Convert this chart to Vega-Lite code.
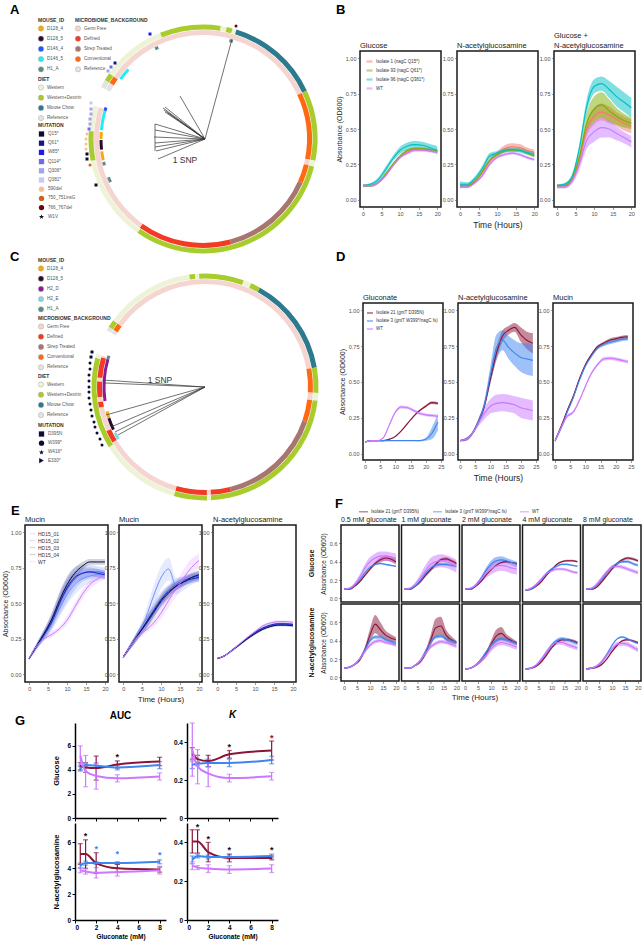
{
"$schema":"https://vega.github.io/schema/vega-lite/v6.json",
"padding":0,
"background":"white",
"config":{"font":"Liberation Sans","view":{"stroke":null},
"axis":{"grid":false,"domain":false,"labelFontSize":5.5,"labelColor":"#4d4d4d","tickColor":"#555","tickSize":2.5,"tickWidth":0.6,"labelPadding":1.5,"titleFontSize":7,"titleFontWeight":"normal","titleColor":"#222","titlePadding":3},
"title":{"fontSize":7.5,"fontWeight":"normal","anchor":"start","frame":"group","offset":2,"color":"#222"},
"legend":{"titleFontSize":5,"titleFontWeight":"bold","labelFontSize":4.6,"rowPadding":2.2,"titlePadding":2.5,"labelOffset":3,"labelColor":"#555","titleColor":"#333","symbolSize":28,"padding":0,"offset":0}},
"datasets":{
"dietA":[{"a0":297,"a1":301,"c":"Reference"},{"a0":301,"a1":305,"c":"Western+Dextrin"},{"a0":305,"a1":338,"c":"Western"},{"a0":338,"a1":360,"c":"Western+Dextrin"},{"a0":0,"a1":9,"c":"Western+Dextrin"},{"a0":9,"a1":12,"c":"Western"},{"a0":12,"a1":15,"c":"Western+Dextrin"},{"a0":15,"a1":17,"c":"Western"},{"a0":17,"a1":65,"c":"Mouse Chow"},{"a0":65,"a1":101,"c":"Western+Dextrin"},{"a0":101,"a1":104,"c":"Western"},{"a0":104,"a1":215,"c":"Western+Dextrin"},{"a0":215,"a1":259,"c":"Western"},{"a0":259,"a1":274,"c":"Western+Dextrin"},{"a0":274,"a1":287,"c":"Western"}],
"microA":[{"a0":297,"a1":301,"c":"Reference"},{"a0":301,"a1":305,"c":"Conventional"},{"a0":305,"a1":360,"c":"Germ Free"},{"a0":0,"a1":65,"c":"Germ Free"},{"a0":65,"a1":101,"c":"Conventional"},{"a0":101,"a1":104,"c":"Germ Free"},{"a0":104,"a1":114,"c":"Conventional"},{"a0":114,"a1":165,"c":"Strep Treated"},{"a0":165,"a1":215.5,"c":"Defined"},{"a0":215.5,"a1":287,"c":"Germ Free"}],
"mouseA":[{"a0":306,"a1":313,"c":"D146_5"},{"a0":332,"a1":334,"c":"H1_A"},{"a0":15,"a1":17,"c":"H1_A"},{"a0":286,"a1":288,"c":"D146_4"},{"a0":275,"a1":286,"c":"D146_5"},{"a0":270,"a1":274,"c":"D128_4"},{"a0":264,"a1":269.5,"c":"D128_5"},{"a0":258,"a1":263,"c":"D128_4"},{"a0":255,"a1":257,"c":"H1_A"},{"a0":245,"a1":248,"c":"H1_A"}],
"mutA":[{"dx":-53,"dy":-105,"m":"W85*"},{"dx":-88,"dy":-76,"m":"Q61*"},{"dx":-92,"dy":-72,"m":"Q114*"},{"dx":-95,"dy":-68,"m":"Q306*"},{"dx":-112,"dy":-36,"m":"Q381*"},{"dx":-112,"dy":-30,"m":"Q306*"},{"dx":-112,"dy":-25,"m":"Q306*"},{"dx":-113,"dy":-20,"m":"Q306*"},{"dx":-113,"dy":-15,"m":"Q306*"},{"dx":-114,"dy":-10,"m":"Q114*"},{"dx":-116,"dy":-5,"m":"590del"},{"dx":-117,"dy":0,"m":"590del"},{"dx":-117,"dy":5,"m":"590del"},{"dx":-117,"dy":10,"m":"590del"},{"dx":-116,"dy":15,"m":"Q15*"},{"dx":-116,"dy":20,"m":"Q15*"},{"dx":-113,"dy":26,"m":"750_751insG"},{"dx":-107,"dy":46,"m":"Q15*"},{"dx":33,"dy":-113,"m":"766_767del"}],
"treeA":[{"x":2,"y":0,"x2":29,"y2":-100},{"x":2,"y":0,"x2":-23,"y2":-43},{"x":2,"y":0,"x2":-38,"y2":-32},{"x":2,"y":0,"x2":-40,"y2":-31},{"x":2,"y":0,"x2":-39,"y2":-29},{"x":2,"y":0,"x2":-38,"y2":-27},{"x":2,"y":0,"x2":-35,"y2":-26},{"x":2,"y":0,"x2":-48,"y2":-15},{"x":2,"y":0,"x2":-48,"y2":-9},{"x":2,"y":0,"x2":-49,"y2":-2},{"x":2,"y":0,"x2":-48,"y2":4},{"x":2,"y":0,"x2":-48,"y2":8},{"x":2,"y":0,"x2":-47,"y2":12},{"x":2,"y":0,"x2":-45,"y2":20},{"x":-48,"y":-15,"x2":-48,"y2":12}],
"dietC":[{"a0":300,"a1":302,"c":"Reference"},{"a0":302,"a1":306,"c":"Western+Dextrin"},{"a0":306,"a1":352,"c":"Western"},{"a0":352,"a1":355,"c":"Western+Dextrin"},{"a0":355,"a1":357,"c":"Western"},{"a0":357,"a1":360,"c":"Western+Dextrin"},{"a0":0,"a1":20,"c":"Western+Dextrin"},{"a0":20,"a1":24,"c":"Western"},{"a0":24,"a1":29,"c":"Western+Dextrin"},{"a0":29,"a1":80,"c":"Mouse Chow"},{"a0":80,"a1":93,"c":"Western+Dextrin"},{"a0":93,"a1":97,"c":"Western"},{"a0":97,"a1":177,"c":"Western+Dextrin"},{"a0":177,"a1":179,"c":"Western"},{"a0":179,"a1":196,"c":"Western+Dextrin"},{"a0":196,"a1":238,"c":"Western"},{"a0":238,"a1":285,"c":"Western+Dextrin"},{"a0":285,"a1":287,"c":"Western"}],
"microC":[{"a0":300,"a1":302,"c":"Reference"},{"a0":302,"a1":306,"c":"Conventional"},{"a0":306,"a1":360,"c":"Germ Free"},{"a0":0,"a1":80,"c":"Germ Free"},{"a0":80,"a1":93,"c":"Conventional"},{"a0":93,"a1":97,"c":"Germ Free"},{"a0":97,"a1":109,"c":"Conventional"},{"a0":109,"a1":166,"c":"Strep Treated"},{"a0":166,"a1":177,"c":"Defined"},{"a0":177,"a1":179,"c":"Germ Free"},{"a0":179,"a1":196,"c":"Defined"},{"a0":196,"a1":239,"c":"Germ Free"},{"a0":239,"a1":246,"c":"Defined"},{"a0":246,"a1":259,"c":"Germ Free"},{"a0":259,"a1":262,"c":"Defined"},{"a0":262,"a1":264.5,"c":"Germ Free"},{"a0":264.5,"a1":273,"c":"Defined"},{"a0":273,"a1":275,"c":"Germ Free"},{"a0":275,"a1":286,"c":"Defined"},{"a0":286,"a1":287,"c":"Germ Free"}],
"mouseC":[{"a0":262,"a1":286,"c":"H2_D"},{"a0":252,"a1":256,"c":"D128_4"},{"a0":245,"a1":252,"c":"D128_5"},{"a0":239,"a1":243,"c":"H2_E"},{"a0":286,"a1":288,"c":"H1_A"}],
"mutC":[{"dx":-113,"dy":-35,"m":"D395N"},{"dx":-114,"dy":-30,"m":"D395N"},{"dx":-115,"dy":-24,"m":"W399*"},{"dx":-115,"dy":-18,"m":"W399*"},{"dx":-116,"dy":-12,"m":"W399*"},{"dx":-116,"dy":-6,"m":"W399*"},{"dx":-116,"dy":0,"m":"W399*"},{"dx":-116,"dy":5,"m":"W399*"},{"dx":-116,"dy":11,"m":"W399*"},{"dx":-115,"dy":17,"m":"W399*"},{"dx":-114,"dy":23,"m":"W399*"},{"dx":-113,"dy":29,"m":"W399*"},{"dx":-111,"dy":35,"m":"W399*"},{"dx":-110,"dy":40,"m":"W399*"},{"dx":-108,"dy":46,"m":"W399*"},{"dx":-105,"dy":52,"m":"W399*"},{"dx":-103,"dy":58,"m":"W399*"}],
"treeC":[{"x":0,"y":0,"x2":-102,"y2":-7},{"x":0,"y":0,"x2":-100,"y2":-4},{"x":0,"y":0,"x2":-99,"y2":28},{"x":0,"y":0,"x2":-94,"y2":40},{"x":0,"y":0,"x2":-90,"y2":45},{"x":0,"y":0,"x2":-87,"y2":48}],
"B":[
{"p":"G","s":"I1","t":0,"y":0.1,"e":0.008},{"p":"G","s":"I1","t":2,"y":0.1,"e":0.008},{"p":"G","s":"I1","t":4,"y":0.12,"e":0.008},{"p":"G","s":"I1","t":6,"y":0.17,"e":0.008},{"p":"G","s":"I1","t":8,"y":0.24,"e":0.008},{"p":"G","s":"I1","t":10,"y":0.3,"e":0.008},{"p":"G","s":"I1","t":12,"y":0.34,"e":0.01},{"p":"G","s":"I1","t":14,"y":0.36,"e":0.01},{"p":"G","s":"I1","t":16,"y":0.36,"e":0.01},{"p":"G","s":"I1","t":18,"y":0.35,"e":0.01},{"p":"G","s":"I1","t":20,"y":0.34,"e":0.01},
{"p":"G","s":"I93","t":0,"y":0.1,"e":0.008},{"p":"G","s":"I93","t":2,"y":0.1,"e":0.008},{"p":"G","s":"I93","t":4,"y":0.12,"e":0.008},{"p":"G","s":"I93","t":6,"y":0.18,"e":0.008},{"p":"G","s":"I93","t":8,"y":0.25,"e":0.008},{"p":"G","s":"I93","t":10,"y":0.31,"e":0.008},{"p":"G","s":"I93","t":12,"y":0.35,"e":0.01},{"p":"G","s":"I93","t":14,"y":0.36,"e":0.01},{"p":"G","s":"I93","t":16,"y":0.36,"e":0.01},{"p":"G","s":"I93","t":18,"y":0.355,"e":0.01},{"p":"G","s":"I93","t":20,"y":0.345,"e":0.01},
{"p":"G","s":"I96","t":0,"y":0.1,"e":0.01},{"p":"G","s":"I96","t":2,"y":0.11,"e":0.01},{"p":"G","s":"I96","t":4,"y":0.14,"e":0.015},{"p":"G","s":"I96","t":6,"y":0.21,"e":0.02},{"p":"G","s":"I96","t":8,"y":0.29,"e":0.02},{"p":"G","s":"I96","t":10,"y":0.35,"e":0.025},{"p":"G","s":"I96","t":12,"y":0.38,"e":0.025},{"p":"G","s":"I96","t":14,"y":0.39,"e":0.025},{"p":"G","s":"I96","t":16,"y":0.385,"e":0.025},{"p":"G","s":"I96","t":18,"y":0.37,"e":0.025},{"p":"G","s":"I96","t":20,"y":0.35,"e":0.03},
{"p":"G","s":"WT","t":0,"y":0.1,"e":0.008},{"p":"G","s":"WT","t":2,"y":0.1,"e":0.008},{"p":"G","s":"WT","t":4,"y":0.12,"e":0.008},{"p":"G","s":"WT","t":6,"y":0.17,"e":0.01},{"p":"G","s":"WT","t":8,"y":0.24,"e":0.01},{"p":"G","s":"WT","t":10,"y":0.3,"e":0.01},{"p":"G","s":"WT","t":12,"y":0.33,"e":0.01},{"p":"G","s":"WT","t":14,"y":0.35,"e":0.01},{"p":"G","s":"WT","t":16,"y":0.35,"e":0.01},{"p":"G","s":"WT","t":18,"y":0.345,"e":0.01},{"p":"G","s":"WT","t":20,"y":0.34,"e":0.01},
{"p":"N","s":"I1","t":0,"y":0.1,"e":0.01},{"p":"N","s":"I1","t":2,"y":0.1,"e":0.01},{"p":"N","s":"I1","t":4,"y":0.13,"e":0.01},{"p":"N","s":"I1","t":6,"y":0.19,"e":0.015},{"p":"N","s":"I1","t":8,"y":0.27,"e":0.015},{"p":"N","s":"I1","t":10,"y":0.32,"e":0.02},{"p":"N","s":"I1","t":12,"y":0.36,"e":0.025},{"p":"N","s":"I1","t":14,"y":0.375,"e":0.025},{"p":"N","s":"I1","t":16,"y":0.37,"e":0.025},{"p":"N","s":"I1","t":18,"y":0.35,"e":0.02},{"p":"N","s":"I1","t":20,"y":0.335,"e":0.02},
{"p":"N","s":"I93","t":0,"y":0.1,"e":0.008},{"p":"N","s":"I93","t":2,"y":0.1,"e":0.008},{"p":"N","s":"I93","t":4,"y":0.13,"e":0.01},{"p":"N","s":"I93","t":6,"y":0.2,"e":0.01},{"p":"N","s":"I93","t":8,"y":0.28,"e":0.01},{"p":"N","s":"I93","t":10,"y":0.32,"e":0.01},{"p":"N","s":"I93","t":12,"y":0.345,"e":0.01},{"p":"N","s":"I93","t":14,"y":0.35,"e":0.01},{"p":"N","s":"I93","t":16,"y":0.35,"e":0.01},{"p":"N","s":"I93","t":18,"y":0.33,"e":0.01},{"p":"N","s":"I93","t":20,"y":0.31,"e":0.01},
{"p":"N","s":"I96","t":0,"y":0.11,"e":0.02},{"p":"N","s":"I96","t":2,"y":0.11,"e":0.015},{"p":"N","s":"I96","t":4,"y":0.15,"e":0.015},{"p":"N","s":"I96","t":6,"y":0.22,"e":0.02},{"p":"N","s":"I96","t":8,"y":0.31,"e":0.02},{"p":"N","s":"I96","t":10,"y":0.33,"e":0.015},{"p":"N","s":"I96","t":12,"y":0.35,"e":0.015},{"p":"N","s":"I96","t":14,"y":0.355,"e":0.015},{"p":"N","s":"I96","t":16,"y":0.35,"e":0.015},{"p":"N","s":"I96","t":18,"y":0.335,"e":0.015},{"p":"N","s":"I96","t":20,"y":0.32,"e":0.015},
{"p":"N","s":"WT","t":0,"y":0.09,"e":0.008},{"p":"N","s":"WT","t":2,"y":0.09,"e":0.008},{"p":"N","s":"WT","t":4,"y":0.12,"e":0.008},{"p":"N","s":"WT","t":6,"y":0.17,"e":0.01},{"p":"N","s":"WT","t":8,"y":0.25,"e":0.01},{"p":"N","s":"WT","t":10,"y":0.3,"e":0.01},{"p":"N","s":"WT","t":12,"y":0.32,"e":0.01},{"p":"N","s":"WT","t":14,"y":0.33,"e":0.01},{"p":"N","s":"WT","t":16,"y":0.32,"e":0.01},{"p":"N","s":"WT","t":18,"y":0.3,"e":0.01},{"p":"N","s":"WT","t":20,"y":0.285,"e":0.01},
{"p":"GN","s":"I1","t":0,"y":0.1,"e":0.01},{"p":"GN","s":"I1","t":2,"y":0.1,"e":0.01},{"p":"GN","s":"I1","t":4,"y":0.14,"e":0.015},{"p":"GN","s":"I1","t":6,"y":0.28,"e":0.03},{"p":"GN","s":"I1","t":8,"y":0.5,"e":0.05},{"p":"GN","s":"I1","t":10,"y":0.59,"e":0.06},{"p":"GN","s":"I1","t":12,"y":0.62,"e":0.06},{"p":"GN","s":"I1","t":14,"y":0.6,"e":0.06},{"p":"GN","s":"I1","t":16,"y":0.57,"e":0.05},{"p":"GN","s":"I1","t":18,"y":0.54,"e":0.05},{"p":"GN","s":"I1","t":20,"y":0.52,"e":0.05},
{"p":"GN","s":"I93","t":0,"y":0.1,"e":0.01},{"p":"GN","s":"I93","t":2,"y":0.1,"e":0.01},{"p":"GN","s":"I93","t":4,"y":0.15,"e":0.015},{"p":"GN","s":"I93","t":6,"y":0.3,"e":0.04},{"p":"GN","s":"I93","t":8,"y":0.54,"e":0.07},{"p":"GN","s":"I93","t":10,"y":0.64,"e":0.09},{"p":"GN","s":"I93","t":12,"y":0.67,"e":0.09},{"p":"GN","s":"I93","t":14,"y":0.63,"e":0.08},{"p":"GN","s":"I93","t":16,"y":0.59,"e":0.06},{"p":"GN","s":"I93","t":18,"y":0.56,"e":0.05},{"p":"GN","s":"I93","t":20,"y":0.54,"e":0.04},
{"p":"GN","s":"I96","t":0,"y":0.1,"e":0.01},{"p":"GN","s":"I96","t":2,"y":0.11,"e":0.01},{"p":"GN","s":"I96","t":4,"y":0.16,"e":0.02},{"p":"GN","s":"I96","t":6,"y":0.36,"e":0.03},{"p":"GN","s":"I96","t":8,"y":0.66,"e":0.05},{"p":"GN","s":"I96","t":10,"y":0.8,"e":0.05},{"p":"GN","s":"I96","t":12,"y":0.82,"e":0.05},{"p":"GN","s":"I96","t":14,"y":0.78,"e":0.06},{"p":"GN","s":"I96","t":16,"y":0.73,"e":0.07},{"p":"GN","s":"I96","t":18,"y":0.69,"e":0.07},{"p":"GN","s":"I96","t":20,"y":0.65,"e":0.07},
{"p":"GN","s":"WT","t":0,"y":0.09,"e":0.01},{"p":"GN","s":"WT","t":2,"y":0.09,"e":0.01},{"p":"GN","s":"WT","t":4,"y":0.13,"e":0.02},{"p":"GN","s":"WT","t":6,"y":0.25,"e":0.04},{"p":"GN","s":"WT","t":8,"y":0.42,"e":0.06},{"p":"GN","s":"WT","t":10,"y":0.48,"e":0.07},{"p":"GN","s":"WT","t":12,"y":0.51,"e":0.07},{"p":"GN","s":"WT","t":14,"y":0.5,"e":0.06},{"p":"GN","s":"WT","t":16,"y":0.47,"e":0.05},{"p":"GN","s":"WT","t":18,"y":0.44,"e":0.04},{"p":"GN","s":"WT","t":20,"y":0.41,"e":0.04}],
"D":[
{"p":"Gc","s":"R","t":0,"y":0.08,"e":0.005},{"p":"Gc","s":"R","t":2,"y":0.09,"e":0.005},{"p":"Gc","s":"R","t":4,"y":0.09,"e":0.005},{"p":"Gc","s":"R","t":6,"y":0.09,"e":0.005},{"p":"Gc","s":"R","t":8,"y":0.1,"e":0.005},{"p":"Gc","s":"R","t":10,"y":0.12,"e":0.005},{"p":"Gc","s":"R","t":12,"y":0.16,"e":0.005},{"p":"Gc","s":"R","t":14,"y":0.21,"e":0.005},{"p":"Gc","s":"R","t":16,"y":0.26,"e":0.005},{"p":"Gc","s":"R","t":18,"y":0.3,"e":0.006},{"p":"Gc","s":"R","t":20,"y":0.33,"e":0.008},{"p":"Gc","s":"R","t":22,"y":0.355,"e":0.01},{"p":"Gc","s":"R","t":24,"y":0.35,"e":0.01},
{"p":"Gc","s":"B","t":0,"y":0.08,"e":0.003},{"p":"Gc","s":"B","t":2,"y":0.09,"e":0.003},{"p":"Gc","s":"B","t":4,"y":0.09,"e":0.003},{"p":"Gc","s":"B","t":6,"y":0.09,"e":0.003},{"p":"Gc","s":"B","t":8,"y":0.09,"e":0.003},{"p":"Gc","s":"B","t":10,"y":0.09,"e":0.003},{"p":"Gc","s":"B","t":12,"y":0.09,"e":0.003},{"p":"Gc","s":"B","t":14,"y":0.09,"e":0.003},{"p":"Gc","s":"B","t":16,"y":0.09,"e":0.003},{"p":"Gc","s":"B","t":18,"y":0.09,"e":0.005},{"p":"Gc","s":"B","t":20,"y":0.1,"e":0.01},{"p":"Gc","s":"B","t":22,"y":0.14,"e":0.04},{"p":"Gc","s":"B","t":24,"y":0.22,"e":0.06},
{"p":"Gc","s":"W","t":0,"y":0.08,"e":0.005},{"p":"Gc","s":"W","t":2,"y":0.09,"e":0.005},{"p":"Gc","s":"W","t":4,"y":0.09,"e":0.005},{"p":"Gc","s":"W","t":6,"y":0.11,"e":0.005},{"p":"Gc","s":"W","t":8,"y":0.2,"e":0.008},{"p":"Gc","s":"W","t":10,"y":0.29,"e":0.01},{"p":"Gc","s":"W","t":12,"y":0.325,"e":0.01},{"p":"Gc","s":"W","t":14,"y":0.32,"e":0.01},{"p":"Gc","s":"W","t":16,"y":0.3,"e":0.01},{"p":"Gc","s":"W","t":18,"y":0.28,"e":0.01},{"p":"Gc","s":"W","t":20,"y":0.27,"e":0.01},{"p":"Gc","s":"W","t":22,"y":0.265,"e":0.01},{"p":"Gc","s":"W","t":24,"y":0.26,"e":0.01},
{"p":"N","s":"R","t":0,"y":0.09,"e":0.005},{"p":"N","s":"R","t":2,"y":0.1,"e":0.01},{"p":"N","s":"R","t":4,"y":0.14,"e":0.01},{"p":"N","s":"R","t":6,"y":0.22,"e":0.02},{"p":"N","s":"R","t":8,"y":0.33,"e":0.02},{"p":"N","s":"R","t":10,"y":0.52,"e":0.03},{"p":"N","s":"R","t":12,"y":0.7,"e":0.04},{"p":"N","s":"R","t":14,"y":0.82,"e":0.04},{"p":"N","s":"R","t":16,"y":0.86,"e":0.03},{"p":"N","s":"R","t":18,"y":0.88,"e":0.03},{"p":"N","s":"R","t":20,"y":0.83,"e":0.05},{"p":"N","s":"R","t":22,"y":0.79,"e":0.06},{"p":"N","s":"R","t":24,"y":0.77,"e":0.07},
{"p":"N","s":"B","t":0,"y":0.09,"e":0.005},{"p":"N","s":"B","t":2,"y":0.1,"e":0.01},{"p":"N","s":"B","t":4,"y":0.14,"e":0.01},{"p":"N","s":"B","t":6,"y":0.22,"e":0.02},{"p":"N","s":"B","t":8,"y":0.34,"e":0.03},{"p":"N","s":"B","t":10,"y":0.55,"e":0.06},{"p":"N","s":"B","t":12,"y":0.74,"e":0.09},{"p":"N","s":"B","t":14,"y":0.79,"e":0.07},{"p":"N","s":"B","t":16,"y":0.74,"e":0.08},{"p":"N","s":"B","t":18,"y":0.7,"e":0.09},{"p":"N","s":"B","t":20,"y":0.67,"e":0.1},{"p":"N","s":"B","t":22,"y":0.66,"e":0.11},{"p":"N","s":"B","t":24,"y":0.65,"e":0.11},
{"p":"N","s":"W","t":0,"y":0.09,"e":0.005},{"p":"N","s":"W","t":2,"y":0.1,"e":0.01},{"p":"N","s":"W","t":4,"y":0.14,"e":0.01},{"p":"N","s":"W","t":6,"y":0.21,"e":0.02},{"p":"N","s":"W","t":8,"y":0.28,"e":0.04},{"p":"N","s":"W","t":10,"y":0.33,"e":0.05},{"p":"N","s":"W","t":12,"y":0.35,"e":0.06},{"p":"N","s":"W","t":14,"y":0.355,"e":0.06},{"p":"N","s":"W","t":16,"y":0.35,"e":0.06},{"p":"N","s":"W","t":18,"y":0.34,"e":0.06},{"p":"N","s":"W","t":20,"y":0.32,"e":0.07},{"p":"N","s":"W","t":22,"y":0.31,"e":0.07},{"p":"N","s":"W","t":24,"y":0.3,"e":0.07},
{"p":"M","s":"R","t":0,"y":0.09,"e":0.01},{"p":"M","s":"R","t":2,"y":0.19,"e":0.01},{"p":"M","s":"R","t":4,"y":0.3,"e":0.01},{"p":"M","s":"R","t":6,"y":0.4,"e":0.01},{"p":"M","s":"R","t":8,"y":0.52,"e":0.01},{"p":"M","s":"R","t":10,"y":0.62,"e":0.01},{"p":"M","s":"R","t":12,"y":0.69,"e":0.01},{"p":"M","s":"R","t":14,"y":0.745,"e":0.01},{"p":"M","s":"R","t":16,"y":0.77,"e":0.01},{"p":"M","s":"R","t":18,"y":0.79,"e":0.012},{"p":"M","s":"R","t":20,"y":0.8,"e":0.012},{"p":"M","s":"R","t":22,"y":0.81,"e":0.012},{"p":"M","s":"R","t":24,"y":0.815,"e":0.012},
{"p":"M","s":"B","t":0,"y":0.09,"e":0.01},{"p":"M","s":"B","t":2,"y":0.18,"e":0.01},{"p":"M","s":"B","t":4,"y":0.29,"e":0.01},{"p":"M","s":"B","t":6,"y":0.39,"e":0.01},{"p":"M","s":"B","t":8,"y":0.51,"e":0.01},{"p":"M","s":"B","t":10,"y":0.61,"e":0.01},{"p":"M","s":"B","t":12,"y":0.68,"e":0.01},{"p":"M","s":"B","t":14,"y":0.735,"e":0.01},{"p":"M","s":"B","t":16,"y":0.76,"e":0.012},{"p":"M","s":"B","t":18,"y":0.775,"e":0.012},{"p":"M","s":"B","t":20,"y":0.785,"e":0.012},{"p":"M","s":"B","t":22,"y":0.795,"e":0.012},{"p":"M","s":"B","t":24,"y":0.8,"e":0.012},
{"p":"M","s":"W","t":0,"y":0.09,"e":0.01},{"p":"M","s":"W","t":2,"y":0.18,"e":0.01},{"p":"M","s":"W","t":4,"y":0.26,"e":0.01},{"p":"M","s":"W","t":6,"y":0.29,"e":0.01},{"p":"M","s":"W","t":8,"y":0.37,"e":0.01},{"p":"M","s":"W","t":10,"y":0.47,"e":0.01},{"p":"M","s":"W","t":12,"y":0.56,"e":0.01},{"p":"M","s":"W","t":14,"y":0.62,"e":0.01},{"p":"M","s":"W","t":16,"y":0.66,"e":0.012},{"p":"M","s":"W","t":18,"y":0.665,"e":0.012},{"p":"M","s":"W","t":20,"y":0.66,"e":0.012},{"p":"M","s":"W","t":22,"y":0.65,"e":0.012},{"p":"M","s":"W","t":24,"y":0.64,"e":0.012}],
"E":[
{"p":"M1","s":"HD15_01","t":0,"y":0.11,"e":0.01},{"p":"M1","s":"HD15_01","t":2,"y":0.19,"e":0.02},{"p":"M1","s":"HD15_01","t":4,"y":0.27,"e":0.03},{"p":"M1","s":"HD15_01","t":6,"y":0.36,"e":0.05},{"p":"M1","s":"HD15_01","t":8,"y":0.46,"e":0.06},{"p":"M1","s":"HD15_01","t":10,"y":0.56,"e":0.07},{"p":"M1","s":"HD15_01","t":12,"y":0.63,"e":0.07},{"p":"M1","s":"HD15_01","t":14,"y":0.67,"e":0.06},{"p":"M1","s":"HD15_01","t":16,"y":0.69,"e":0.05},{"p":"M1","s":"HD15_01","t":18,"y":0.7,"e":0.04},{"p":"M1","s":"HD15_01","t":20,"y":0.7,"e":0.03},
{"p":"M1","s":"HD15_02","t":0,"y":0.11,"e":0.01},{"p":"M1","s":"HD15_02","t":2,"y":0.2,"e":0.02},{"p":"M1","s":"HD15_02","t":4,"y":0.28,"e":0.04},{"p":"M1","s":"HD15_02","t":6,"y":0.38,"e":0.06},{"p":"M1","s":"HD15_02","t":8,"y":0.5,"e":0.08},{"p":"M1","s":"HD15_02","t":10,"y":0.6,"e":0.09},{"p":"M1","s":"HD15_02","t":12,"y":0.67,"e":0.08},{"p":"M1","s":"HD15_02","t":14,"y":0.71,"e":0.06},{"p":"M1","s":"HD15_02","t":16,"y":0.72,"e":0.05},{"p":"M1","s":"HD15_02","t":18,"y":0.72,"e":0.04},{"p":"M1","s":"HD15_02","t":20,"y":0.71,"e":0.04},
{"p":"M1","s":"HD15_03","t":0,"y":0.11,"e":0.01},{"p":"M1","s":"HD15_03","t":2,"y":0.2,"e":0.02},{"p":"M1","s":"HD15_03","t":4,"y":0.28,"e":0.03},{"p":"M1","s":"HD15_03","t":6,"y":0.37,"e":0.04},{"p":"M1","s":"HD15_03","t":8,"y":0.5,"e":0.05},{"p":"M1","s":"HD15_03","t":10,"y":0.61,"e":0.05},{"p":"M1","s":"HD15_03","t":12,"y":0.68,"e":0.04},{"p":"M1","s":"HD15_03","t":14,"y":0.71,"e":0.04},{"p":"M1","s":"HD15_03","t":16,"y":0.72,"e":0.03},{"p":"M1","s":"HD15_03","t":18,"y":0.71,"e":0.03},{"p":"M1","s":"HD15_03","t":20,"y":0.7,"e":0.03},
{"p":"M1","s":"HD15_04","t":0,"y":0.11,"e":0.01},{"p":"M1","s":"HD15_04","t":2,"y":0.2,"e":0.02},{"p":"M1","s":"HD15_04","t":4,"y":0.29,"e":0.03},{"p":"M1","s":"HD15_04","t":6,"y":0.39,"e":0.04},{"p":"M1","s":"HD15_04","t":8,"y":0.52,"e":0.05},{"p":"M1","s":"HD15_04","t":10,"y":0.63,"e":0.05},{"p":"M1","s":"HD15_04","t":12,"y":0.71,"e":0.04},{"p":"M1","s":"HD15_04","t":14,"y":0.76,"e":0.03},{"p":"M1","s":"HD15_04","t":16,"y":0.79,"e":0.02},{"p":"M1","s":"HD15_04","t":18,"y":0.79,"e":0.02},{"p":"M1","s":"HD15_04","t":20,"y":0.79,"e":0.02},
{"p":"M1","s":"WT","t":0,"y":0.11,"e":0.01},{"p":"M1","s":"WT","t":2,"y":0.2,"e":0.01},{"p":"M1","s":"WT","t":4,"y":0.25,"e":0.01},{"p":"M1","s":"WT","t":6,"y":0.28,"e":0.02},{"p":"M1","s":"WT","t":8,"y":0.32,"e":0.02},{"p":"M1","s":"WT","t":10,"y":0.38,"e":0.03},{"p":"M1","s":"WT","t":12,"y":0.47,"e":0.03},{"p":"M1","s":"WT","t":14,"y":0.56,"e":0.03},{"p":"M1","s":"WT","t":16,"y":0.63,"e":0.03},{"p":"M1","s":"WT","t":18,"y":0.67,"e":0.03},{"p":"M1","s":"WT","t":20,"y":0.7,"e":0.03},
{"p":"M2","s":"HD15_01","t":0,"y":0.12,"e":0.01},{"p":"M2","s":"HD15_01","t":2,"y":0.2,"e":0.02},{"p":"M2","s":"HD15_01","t":4,"y":0.29,"e":0.03},{"p":"M2","s":"HD15_01","t":6,"y":0.4,"e":0.05},{"p":"M2","s":"HD15_01","t":8,"y":0.55,"e":0.07},{"p":"M2","s":"HD15_01","t":10,"y":0.68,"e":0.08},{"p":"M2","s":"HD15_01","t":12,"y":0.74,"e":0.08},{"p":"M2","s":"HD15_01","t":14,"y":0.62,"e":0.06},{"p":"M2","s":"HD15_01","t":16,"y":0.64,"e":0.05},{"p":"M2","s":"HD15_01","t":18,"y":0.67,"e":0.04},{"p":"M2","s":"HD15_01","t":20,"y":0.69,"e":0.04},
{"p":"M2","s":"HD15_02","t":0,"y":0.12,"e":0.01},{"p":"M2","s":"HD15_02","t":2,"y":0.2,"e":0.02},{"p":"M2","s":"HD15_02","t":4,"y":0.28,"e":0.03},{"p":"M2","s":"HD15_02","t":6,"y":0.36,"e":0.04},{"p":"M2","s":"HD15_02","t":8,"y":0.45,"e":0.05},{"p":"M2","s":"HD15_02","t":10,"y":0.53,"e":0.05},{"p":"M2","s":"HD15_02","t":12,"y":0.59,"e":0.04},{"p":"M2","s":"HD15_02","t":14,"y":0.63,"e":0.04},{"p":"M2","s":"HD15_02","t":16,"y":0.66,"e":0.03},{"p":"M2","s":"HD15_02","t":18,"y":0.68,"e":0.03},{"p":"M2","s":"HD15_02","t":20,"y":0.69,"e":0.03},
{"p":"M2","s":"HD15_03","t":0,"y":0.12,"e":0.01},{"p":"M2","s":"HD15_03","t":2,"y":0.2,"e":0.02},{"p":"M2","s":"HD15_03","t":4,"y":0.28,"e":0.03},{"p":"M2","s":"HD15_03","t":6,"y":0.35,"e":0.04},{"p":"M2","s":"HD15_03","t":8,"y":0.43,"e":0.04},{"p":"M2","s":"HD15_03","t":10,"y":0.51,"e":0.04},{"p":"M2","s":"HD15_03","t":12,"y":0.57,"e":0.04},{"p":"M2","s":"HD15_03","t":14,"y":0.62,"e":0.03},{"p":"M2","s":"HD15_03","t":16,"y":0.65,"e":0.03},{"p":"M2","s":"HD15_03","t":18,"y":0.67,"e":0.03},{"p":"M2","s":"HD15_03","t":20,"y":0.68,"e":0.03},
{"p":"M2","s":"HD15_04","t":0,"y":0.12,"e":0.01},{"p":"M2","s":"HD15_04","t":2,"y":0.2,"e":0.02},{"p":"M2","s":"HD15_04","t":4,"y":0.28,"e":0.03},{"p":"M2","s":"HD15_04","t":6,"y":0.36,"e":0.04},{"p":"M2","s":"HD15_04","t":8,"y":0.44,"e":0.04},{"p":"M2","s":"HD15_04","t":10,"y":0.52,"e":0.04},{"p":"M2","s":"HD15_04","t":12,"y":0.58,"e":0.04},{"p":"M2","s":"HD15_04","t":14,"y":0.62,"e":0.03},{"p":"M2","s":"HD15_04","t":16,"y":0.65,"e":0.03},{"p":"M2","s":"HD15_04","t":18,"y":0.68,"e":0.03},{"p":"M2","s":"HD15_04","t":20,"y":0.7,"e":0.03},
{"p":"M2","s":"WT","t":0,"y":0.12,"e":0.01},{"p":"M2","s":"WT","t":2,"y":0.2,"e":0.01},{"p":"M2","s":"WT","t":4,"y":0.27,"e":0.02},{"p":"M2","s":"WT","t":6,"y":0.31,"e":0.02},{"p":"M2","s":"WT","t":8,"y":0.36,"e":0.03},{"p":"M2","s":"WT","t":10,"y":0.43,"e":0.04},{"p":"M2","s":"WT","t":12,"y":0.52,"e":0.05},{"p":"M2","s":"WT","t":14,"y":0.6,"e":0.05},{"p":"M2","s":"WT","t":16,"y":0.68,"e":0.06},{"p":"M2","s":"WT","t":18,"y":0.75,"e":0.06},{"p":"M2","s":"WT","t":20,"y":0.8,"e":0.05},
{"p":"N","s":"HD15_01","t":0,"y":0.11,"e":0.005},{"p":"N","s":"HD15_01","t":2,"y":0.13,"e":0.005},{"p":"N","s":"HD15_01","t":4,"y":0.17,"e":0.008},{"p":"N","s":"HD15_01","t":6,"y":0.21,"e":0.008},{"p":"N","s":"HD15_01","t":8,"y":0.25,"e":0.008},{"p":"N","s":"HD15_01","t":10,"y":0.29,"e":0.01},{"p":"N","s":"HD15_01","t":12,"y":0.32,"e":0.01},{"p":"N","s":"HD15_01","t":14,"y":0.34,"e":0.01},{"p":"N","s":"HD15_01","t":16,"y":0.35,"e":0.01},{"p":"N","s":"HD15_01","t":18,"y":0.35,"e":0.01},{"p":"N","s":"HD15_01","t":20,"y":0.345,"e":0.01},
{"p":"N","s":"HD15_02","t":0,"y":0.11,"e":0.005},{"p":"N","s":"HD15_02","t":2,"y":0.13,"e":0.005},{"p":"N","s":"HD15_02","t":4,"y":0.17,"e":0.008},{"p":"N","s":"HD15_02","t":6,"y":0.21,"e":0.008},{"p":"N","s":"HD15_02","t":8,"y":0.25,"e":0.008},{"p":"N","s":"HD15_02","t":10,"y":0.29,"e":0.01},{"p":"N","s":"HD15_02","t":12,"y":0.32,"e":0.01},{"p":"N","s":"HD15_02","t":14,"y":0.34,"e":0.01},{"p":"N","s":"HD15_02","t":16,"y":0.35,"e":0.01},{"p":"N","s":"HD15_02","t":18,"y":0.35,"e":0.01},{"p":"N","s":"HD15_02","t":20,"y":0.35,"e":0.01},
{"p":"N","s":"HD15_03","t":0,"y":0.11,"e":0.005},{"p":"N","s":"HD15_03","t":2,"y":0.13,"e":0.005},{"p":"N","s":"HD15_03","t":4,"y":0.17,"e":0.008},{"p":"N","s":"HD15_03","t":6,"y":0.21,"e":0.008},{"p":"N","s":"HD15_03","t":8,"y":0.255,"e":0.008},{"p":"N","s":"HD15_03","t":10,"y":0.295,"e":0.01},{"p":"N","s":"HD15_03","t":12,"y":0.325,"e":0.01},{"p":"N","s":"HD15_03","t":14,"y":0.345,"e":0.01},{"p":"N","s":"HD15_03","t":16,"y":0.355,"e":0.01},{"p":"N","s":"HD15_03","t":18,"y":0.355,"e":0.01},{"p":"N","s":"HD15_03","t":20,"y":0.35,"e":0.01},
{"p":"N","s":"HD15_04","t":0,"y":0.11,"e":0.005},{"p":"N","s":"HD15_04","t":2,"y":0.13,"e":0.005},{"p":"N","s":"HD15_04","t":4,"y":0.17,"e":0.008},{"p":"N","s":"HD15_04","t":6,"y":0.21,"e":0.008},{"p":"N","s":"HD15_04","t":8,"y":0.25,"e":0.008},{"p":"N","s":"HD15_04","t":10,"y":0.285,"e":0.01},{"p":"N","s":"HD15_04","t":12,"y":0.315,"e":0.01},{"p":"N","s":"HD15_04","t":14,"y":0.335,"e":0.01},{"p":"N","s":"HD15_04","t":16,"y":0.345,"e":0.01},{"p":"N","s":"HD15_04","t":18,"y":0.345,"e":0.01},{"p":"N","s":"HD15_04","t":20,"y":0.34,"e":0.01},
{"p":"N","s":"WT","t":0,"y":0.11,"e":0.005},{"p":"N","s":"WT","t":2,"y":0.13,"e":0.005},{"p":"N","s":"WT","t":4,"y":0.17,"e":0.008},{"p":"N","s":"WT","t":6,"y":0.215,"e":0.008},{"p":"N","s":"WT","t":8,"y":0.26,"e":0.01},{"p":"N","s":"WT","t":10,"y":0.3,"e":0.01},{"p":"N","s":"WT","t":12,"y":0.34,"e":0.01},{"p":"N","s":"WT","t":14,"y":0.36,"e":0.01},{"p":"N","s":"WT","t":16,"y":0.37,"e":0.01},{"p":"N","s":"WT","t":18,"y":0.37,"e":0.01},{"p":"N","s":"WT","t":20,"y":0.365,"e":0.01}],
"F":[
{"r":"G","c":0.5,"s":"R","t":0,"y":0.1,"e":0.01},{"r":"G","c":0.5,"s":"R","t":2,"y":0.1,"e":0.01},{"r":"G","c":0.5,"s":"R","t":4,"y":0.13,"e":0.01},{"r":"G","c":0.5,"s":"R","t":6,"y":0.18,"e":0.01},{"r":"G","c":0.5,"s":"R","t":8,"y":0.25,"e":0.015},{"r":"G","c":0.5,"s":"R","t":10,"y":0.32,"e":0.02},{"r":"G","c":0.5,"s":"R","t":12,"y":0.38,"e":0.02},{"r":"G","c":0.5,"s":"R","t":14,"y":0.42,"e":0.025},{"r":"G","c":0.5,"s":"R","t":16,"y":0.44,"e":0.03},{"r":"G","c":0.5,"s":"R","t":18,"y":0.43,"e":0.03},{"r":"G","c":0.5,"s":"R","t":20,"y":0.4,"e":0.03},
{"r":"G","c":0.5,"s":"B","t":0,"y":0.1,"e":0.01},{"r":"G","c":0.5,"s":"B","t":2,"y":0.1,"e":0.01},{"r":"G","c":0.5,"s":"B","t":4,"y":0.14,"e":0.01},{"r":"G","c":0.5,"s":"B","t":6,"y":0.2,"e":0.01},{"r":"G","c":0.5,"s":"B","t":8,"y":0.28,"e":0.01},{"r":"G","c":0.5,"s":"B","t":10,"y":0.34,"e":0.01},{"r":"G","c":0.5,"s":"B","t":12,"y":0.37,"e":0.01},{"r":"G","c":0.5,"s":"B","t":14,"y":0.38,"e":0.01},{"r":"G","c":0.5,"s":"B","t":16,"y":0.37,"e":0.01},{"r":"G","c":0.5,"s":"B","t":18,"y":0.36,"e":0.01},{"r":"G","c":0.5,"s":"B","t":20,"y":0.35,"e":0.01},
{"r":"G","c":0.5,"s":"W","t":0,"y":0.1,"e":0.01},{"r":"G","c":0.5,"s":"W","t":2,"y":0.11,"e":0.01},{"r":"G","c":0.5,"s":"W","t":4,"y":0.15,"e":0.02},{"r":"G","c":0.5,"s":"W","t":6,"y":0.23,"e":0.03},{"r":"G","c":0.5,"s":"W","t":8,"y":0.33,"e":0.04},{"r":"G","c":0.5,"s":"W","t":10,"y":0.4,"e":0.05},{"r":"G","c":0.5,"s":"W","t":12,"y":0.44,"e":0.05},{"r":"G","c":0.5,"s":"W","t":14,"y":0.46,"e":0.05},{"r":"G","c":0.5,"s":"W","t":16,"y":0.46,"e":0.05},{"r":"G","c":0.5,"s":"W","t":18,"y":0.45,"e":0.05},{"r":"G","c":0.5,"s":"W","t":20,"y":0.44,"e":0.05},
{"r":"G","c":1,"s":"R","t":0,"y":0.1,"e":0.01},{"r":"G","c":1,"s":"R","t":2,"y":0.1,"e":0.01},{"r":"G","c":1,"s":"R","t":4,"y":0.13,"e":0.01},{"r":"G","c":1,"s":"R","t":6,"y":0.18,"e":0.015},{"r":"G","c":1,"s":"R","t":8,"y":0.25,"e":0.02},{"r":"G","c":1,"s":"R","t":10,"y":0.31,"e":0.02},{"r":"G","c":1,"s":"R","t":12,"y":0.37,"e":0.02},{"r":"G","c":1,"s":"R","t":14,"y":0.42,"e":0.02},{"r":"G","c":1,"s":"R","t":16,"y":0.43,"e":0.02},{"r":"G","c":1,"s":"R","t":18,"y":0.41,"e":0.02},{"r":"G","c":1,"s":"R","t":20,"y":0.38,"e":0.02},
{"r":"G","c":1,"s":"B","t":0,"y":0.1,"e":0.01},{"r":"G","c":1,"s":"B","t":2,"y":0.1,"e":0.01},{"r":"G","c":1,"s":"B","t":4,"y":0.13,"e":0.01},{"r":"G","c":1,"s":"B","t":6,"y":0.19,"e":0.015},{"r":"G","c":1,"s":"B","t":8,"y":0.27,"e":0.015},{"r":"G","c":1,"s":"B","t":10,"y":0.33,"e":0.015},{"r":"G","c":1,"s":"B","t":12,"y":0.36,"e":0.015},{"r":"G","c":1,"s":"B","t":14,"y":0.37,"e":0.015},{"r":"G","c":1,"s":"B","t":16,"y":0.37,"e":0.015},{"r":"G","c":1,"s":"B","t":18,"y":0.36,"e":0.015},{"r":"G","c":1,"s":"B","t":20,"y":0.35,"e":0.015},
{"r":"G","c":1,"s":"W","t":0,"y":0.1,"e":0.01},{"r":"G","c":1,"s":"W","t":2,"y":0.11,"e":0.01},{"r":"G","c":1,"s":"W","t":4,"y":0.15,"e":0.02},{"r":"G","c":1,"s":"W","t":6,"y":0.22,"e":0.04},{"r":"G","c":1,"s":"W","t":8,"y":0.3,"e":0.06},{"r":"G","c":1,"s":"W","t":10,"y":0.37,"e":0.07},{"r":"G","c":1,"s":"W","t":12,"y":0.4,"e":0.07},{"r":"G","c":1,"s":"W","t":14,"y":0.41,"e":0.07},{"r":"G","c":1,"s":"W","t":16,"y":0.4,"e":0.07},{"r":"G","c":1,"s":"W","t":18,"y":0.38,"e":0.07},{"r":"G","c":1,"s":"W","t":20,"y":0.35,"e":0.07},
{"r":"G","c":2,"s":"R","t":0,"y":0.1,"e":0.01},{"r":"G","c":2,"s":"R","t":2,"y":0.1,"e":0.01},{"r":"G","c":2,"s":"R","t":4,"y":0.13,"e":0.01},{"r":"G","c":2,"s":"R","t":6,"y":0.18,"e":0.01},{"r":"G","c":2,"s":"R","t":8,"y":0.25,"e":0.01},{"r":"G","c":2,"s":"R","t":10,"y":0.31,"e":0.01},{"r":"G","c":2,"s":"R","t":12,"y":0.36,"e":0.01},{"r":"G","c":2,"s":"R","t":14,"y":0.39,"e":0.01},{"r":"G","c":2,"s":"R","t":16,"y":0.4,"e":0.01},{"r":"G","c":2,"s":"R","t":18,"y":0.39,"e":0.01},{"r":"G","c":2,"s":"R","t":20,"y":0.38,"e":0.01},
{"r":"G","c":2,"s":"B","t":0,"y":0.1,"e":0.01},{"r":"G","c":2,"s":"B","t":2,"y":0.1,"e":0.01},{"r":"G","c":2,"s":"B","t":4,"y":0.14,"e":0.015},{"r":"G","c":2,"s":"B","t":6,"y":0.21,"e":0.02},{"r":"G","c":2,"s":"B","t":8,"y":0.3,"e":0.03},{"r":"G","c":2,"s":"B","t":10,"y":0.37,"e":0.04},{"r":"G","c":2,"s":"B","t":12,"y":0.41,"e":0.04},{"r":"G","c":2,"s":"B","t":14,"y":0.42,"e":0.04},{"r":"G","c":2,"s":"B","t":16,"y":0.41,"e":0.03},{"r":"G","c":2,"s":"B","t":18,"y":0.39,"e":0.03},{"r":"G","c":2,"s":"B","t":20,"y":0.37,"e":0.03},
{"r":"G","c":2,"s":"W","t":0,"y":0.1,"e":0.01},{"r":"G","c":2,"s":"W","t":2,"y":0.11,"e":0.01},{"r":"G","c":2,"s":"W","t":4,"y":0.14,"e":0.02},{"r":"G","c":2,"s":"W","t":6,"y":0.2,"e":0.03},{"r":"G","c":2,"s":"W","t":8,"y":0.27,"e":0.05},{"r":"G","c":2,"s":"W","t":10,"y":0.32,"e":0.06},{"r":"G","c":2,"s":"W","t":12,"y":0.35,"e":0.06},{"r":"G","c":2,"s":"W","t":14,"y":0.36,"e":0.06},{"r":"G","c":2,"s":"W","t":16,"y":0.35,"e":0.06},{"r":"G","c":2,"s":"W","t":18,"y":0.33,"e":0.06},{"r":"G","c":2,"s":"W","t":20,"y":0.32,"e":0.06},
{"r":"G","c":4,"s":"R","t":0,"y":0.09,"e":0.01},{"r":"G","c":4,"s":"R","t":2,"y":0.1,"e":0.01},{"r":"G","c":4,"s":"R","t":4,"y":0.13,"e":0.01},{"r":"G","c":4,"s":"R","t":6,"y":0.18,"e":0.01},{"r":"G","c":4,"s":"R","t":8,"y":0.25,"e":0.01},{"r":"G","c":4,"s":"R","t":10,"y":0.31,"e":0.01},{"r":"G","c":4,"s":"R","t":12,"y":0.37,"e":0.01},{"r":"G","c":4,"s":"R","t":14,"y":0.4,"e":0.01},{"r":"G","c":4,"s":"R","t":16,"y":0.41,"e":0.01},{"r":"G","c":4,"s":"R","t":18,"y":0.41,"e":0.01},{"r":"G","c":4,"s":"R","t":20,"y":0.4,"e":0.01},
{"r":"G","c":4,"s":"B","t":0,"y":0.09,"e":0.01},{"r":"G","c":4,"s":"B","t":2,"y":0.1,"e":0.01},{"r":"G","c":4,"s":"B","t":4,"y":0.14,"e":0.01},{"r":"G","c":4,"s":"B","t":6,"y":0.2,"e":0.01},{"r":"G","c":4,"s":"B","t":8,"y":0.27,"e":0.01},{"r":"G","c":4,"s":"B","t":10,"y":0.32,"e":0.01},{"r":"G","c":4,"s":"B","t":12,"y":0.35,"e":0.01},{"r":"G","c":4,"s":"B","t":14,"y":0.37,"e":0.01},{"r":"G","c":4,"s":"B","t":16,"y":0.37,"e":0.01},{"r":"G","c":4,"s":"B","t":18,"y":0.36,"e":0.01},{"r":"G","c":4,"s":"B","t":20,"y":0.35,"e":0.01},
{"r":"G","c":4,"s":"W","t":0,"y":0.09,"e":0.01},{"r":"G","c":4,"s":"W","t":2,"y":0.11,"e":0.01},{"r":"G","c":4,"s":"W","t":4,"y":0.15,"e":0.015},{"r":"G","c":4,"s":"W","t":6,"y":0.21,"e":0.015},{"r":"G","c":4,"s":"W","t":8,"y":0.27,"e":0.015},{"r":"G","c":4,"s":"W","t":10,"y":0.3,"e":0.015},{"r":"G","c":4,"s":"W","t":12,"y":0.32,"e":0.015},{"r":"G","c":4,"s":"W","t":14,"y":0.32,"e":0.015},{"r":"G","c":4,"s":"W","t":16,"y":0.31,"e":0.015},{"r":"G","c":4,"s":"W","t":18,"y":0.29,"e":0.015},{"r":"G","c":4,"s":"W","t":20,"y":0.28,"e":0.015},
{"r":"G","c":8,"s":"R","t":0,"y":0.1,"e":0.01},{"r":"G","c":8,"s":"R","t":2,"y":0.1,"e":0.01},{"r":"G","c":8,"s":"R","t":4,"y":0.12,"e":0.01},{"r":"G","c":8,"s":"R","t":6,"y":0.18,"e":0.015},{"r":"G","c":8,"s":"R","t":8,"y":0.25,"e":0.015},{"r":"G","c":8,"s":"R","t":10,"y":0.32,"e":0.015},{"r":"G","c":8,"s":"R","t":12,"y":0.38,"e":0.015},{"r":"G","c":8,"s":"R","t":14,"y":0.42,"e":0.015},{"r":"G","c":8,"s":"R","t":16,"y":0.44,"e":0.015},{"r":"G","c":8,"s":"R","t":18,"y":0.43,"e":0.015},{"r":"G","c":8,"s":"R","t":20,"y":0.41,"e":0.015},
{"r":"G","c":8,"s":"B","t":0,"y":0.1,"e":0.01},{"r":"G","c":8,"s":"B","t":2,"y":0.1,"e":0.01},{"r":"G","c":8,"s":"B","t":4,"y":0.14,"e":0.01},{"r":"G","c":8,"s":"B","t":6,"y":0.2,"e":0.015},{"r":"G","c":8,"s":"B","t":8,"y":0.28,"e":0.015},{"r":"G","c":8,"s":"B","t":10,"y":0.34,"e":0.015},{"r":"G","c":8,"s":"B","t":12,"y":0.38,"e":0.015},{"r":"G","c":8,"s":"B","t":14,"y":0.4,"e":0.015},{"r":"G","c":8,"s":"B","t":16,"y":0.4,"e":0.015},{"r":"G","c":8,"s":"B","t":18,"y":0.38,"e":0.015},{"r":"G","c":8,"s":"B","t":20,"y":0.36,"e":0.015},
{"r":"G","c":8,"s":"W","t":0,"y":0.1,"e":0.01},{"r":"G","c":8,"s":"W","t":2,"y":0.11,"e":0.01},{"r":"G","c":8,"s":"W","t":4,"y":0.15,"e":0.02},{"r":"G","c":8,"s":"W","t":6,"y":0.22,"e":0.02},{"r":"G","c":8,"s":"W","t":8,"y":0.29,"e":0.02},{"r":"G","c":8,"s":"W","t":10,"y":0.34,"e":0.02},{"r":"G","c":8,"s":"W","t":12,"y":0.35,"e":0.02},{"r":"G","c":8,"s":"W","t":14,"y":0.34,"e":0.02},{"r":"G","c":8,"s":"W","t":16,"y":0.32,"e":0.02},{"r":"G","c":8,"s":"W","t":18,"y":0.3,"e":0.02},{"r":"G","c":8,"s":"W","t":20,"y":0.28,"e":0.02},
{"r":"N","c":0.5,"s":"R","t":0,"y":0.1,"e":0.005},{"r":"N","c":0.5,"s":"R","t":2,"y":0.11,"e":0.005},{"r":"N","c":0.5,"s":"R","t":4,"y":0.14,"e":0.01},{"r":"N","c":0.5,"s":"R","t":6,"y":0.19,"e":0.02},{"r":"N","c":0.5,"s":"R","t":8,"y":0.3,"e":0.03},{"r":"N","c":0.5,"s":"R","t":10,"y":0.46,"e":0.07},{"r":"N","c":0.5,"s":"R","t":12,"y":0.58,"e":0.1},{"r":"N","c":0.5,"s":"R","t":14,"y":0.52,"e":0.08},{"r":"N","c":0.5,"s":"R","t":16,"y":0.46,"e":0.05},{"r":"N","c":0.5,"s":"R","t":18,"y":0.43,"e":0.04},{"r":"N","c":0.5,"s":"R","t":20,"y":0.41,"e":0.03},
{"r":"N","c":0.5,"s":"B","t":0,"y":0.1,"e":0.01},{"r":"N","c":0.5,"s":"B","t":2,"y":0.11,"e":0.01},{"r":"N","c":0.5,"s":"B","t":4,"y":0.14,"e":0.01},{"r":"N","c":0.5,"s":"B","t":6,"y":0.2,"e":0.015},{"r":"N","c":0.5,"s":"B","t":8,"y":0.3,"e":0.02},{"r":"N","c":0.5,"s":"B","t":10,"y":0.4,"e":0.02},{"r":"N","c":0.5,"s":"B","t":12,"y":0.44,"e":0.02},{"r":"N","c":0.5,"s":"B","t":14,"y":0.44,"e":0.02},{"r":"N","c":0.5,"s":"B","t":16,"y":0.41,"e":0.02},{"r":"N","c":0.5,"s":"B","t":18,"y":0.39,"e":0.02},{"r":"N","c":0.5,"s":"B","t":20,"y":0.37,"e":0.02},
{"r":"N","c":0.5,"s":"W","t":0,"y":0.1,"e":0.01},{"r":"N","c":0.5,"s":"W","t":2,"y":0.11,"e":0.01},{"r":"N","c":0.5,"s":"W","t":4,"y":0.14,"e":0.01},{"r":"N","c":0.5,"s":"W","t":6,"y":0.2,"e":0.015},{"r":"N","c":0.5,"s":"W","t":8,"y":0.28,"e":0.02},{"r":"N","c":0.5,"s":"W","t":10,"y":0.35,"e":0.02},{"r":"N","c":0.5,"s":"W","t":12,"y":0.39,"e":0.02},{"r":"N","c":0.5,"s":"W","t":14,"y":0.4,"e":0.02},{"r":"N","c":0.5,"s":"W","t":16,"y":0.38,"e":0.02},{"r":"N","c":0.5,"s":"W","t":18,"y":0.37,"e":0.02},{"r":"N","c":0.5,"s":"W","t":20,"y":0.35,"e":0.02},
{"r":"N","c":1,"s":"R","t":0,"y":0.1,"e":0.005},{"r":"N","c":1,"s":"R","t":2,"y":0.1,"e":0.005},{"r":"N","c":1,"s":"R","t":4,"y":0.13,"e":0.01},{"r":"N","c":1,"s":"R","t":6,"y":0.17,"e":0.02},{"r":"N","c":1,"s":"R","t":8,"y":0.26,"e":0.03},{"r":"N","c":1,"s":"R","t":10,"y":0.4,"e":0.06},{"r":"N","c":1,"s":"R","t":12,"y":0.54,"e":0.1},{"r":"N","c":1,"s":"R","t":14,"y":0.56,"e":0.1},{"r":"N","c":1,"s":"R","t":16,"y":0.46,"e":0.06},{"r":"N","c":1,"s":"R","t":18,"y":0.41,"e":0.04},{"r":"N","c":1,"s":"R","t":20,"y":0.38,"e":0.02},
{"r":"N","c":1,"s":"B","t":0,"y":0.1,"e":0.01},{"r":"N","c":1,"s":"B","t":2,"y":0.1,"e":0.01},{"r":"N","c":1,"s":"B","t":4,"y":0.13,"e":0.01},{"r":"N","c":1,"s":"B","t":6,"y":0.18,"e":0.015},{"r":"N","c":1,"s":"B","t":8,"y":0.28,"e":0.02},{"r":"N","c":1,"s":"B","t":10,"y":0.38,"e":0.02},{"r":"N","c":1,"s":"B","t":12,"y":0.44,"e":0.02},{"r":"N","c":1,"s":"B","t":14,"y":0.45,"e":0.02},{"r":"N","c":1,"s":"B","t":16,"y":0.42,"e":0.02},{"r":"N","c":1,"s":"B","t":18,"y":0.4,"e":0.02},{"r":"N","c":1,"s":"B","t":20,"y":0.38,"e":0.02},
{"r":"N","c":1,"s":"W","t":0,"y":0.1,"e":0.01},{"r":"N","c":1,"s":"W","t":2,"y":0.1,"e":0.01},{"r":"N","c":1,"s":"W","t":4,"y":0.13,"e":0.01},{"r":"N","c":1,"s":"W","t":6,"y":0.18,"e":0.015},{"r":"N","c":1,"s":"W","t":8,"y":0.26,"e":0.02},{"r":"N","c":1,"s":"W","t":10,"y":0.33,"e":0.02},{"r":"N","c":1,"s":"W","t":12,"y":0.37,"e":0.02},{"r":"N","c":1,"s":"W","t":14,"y":0.39,"e":0.02},{"r":"N","c":1,"s":"W","t":16,"y":0.38,"e":0.02},{"r":"N","c":1,"s":"W","t":18,"y":0.36,"e":0.02},{"r":"N","c":1,"s":"W","t":20,"y":0.34,"e":0.02},
{"r":"N","c":2,"s":"R","t":0,"y":0.09,"e":0.005},{"r":"N","c":2,"s":"R","t":2,"y":0.1,"e":0.005},{"r":"N","c":2,"s":"R","t":4,"y":0.13,"e":0.01},{"r":"N","c":2,"s":"R","t":6,"y":0.18,"e":0.02},{"r":"N","c":2,"s":"R","t":8,"y":0.25,"e":0.03},{"r":"N","c":2,"s":"R","t":10,"y":0.36,"e":0.04},{"r":"N","c":2,"s":"R","t":12,"y":0.45,"e":0.07},{"r":"N","c":2,"s":"R","t":14,"y":0.48,"e":0.07},{"r":"N","c":2,"s":"R","t":16,"y":0.43,"e":0.04},{"r":"N","c":2,"s":"R","t":18,"y":0.4,"e":0.03},{"r":"N","c":2,"s":"R","t":20,"y":0.37,"e":0.02},
{"r":"N","c":2,"s":"B","t":0,"y":0.09,"e":0.01},{"r":"N","c":2,"s":"B","t":2,"y":0.1,"e":0.01},{"r":"N","c":2,"s":"B","t":4,"y":0.13,"e":0.01},{"r":"N","c":2,"s":"B","t":6,"y":0.19,"e":0.015},{"r":"N","c":2,"s":"B","t":8,"y":0.27,"e":0.02},{"r":"N","c":2,"s":"B","t":10,"y":0.35,"e":0.02},{"r":"N","c":2,"s":"B","t":12,"y":0.4,"e":0.02},{"r":"N","c":2,"s":"B","t":14,"y":0.42,"e":0.02},{"r":"N","c":2,"s":"B","t":16,"y":0.41,"e":0.02},{"r":"N","c":2,"s":"B","t":18,"y":0.39,"e":0.02},{"r":"N","c":2,"s":"B","t":20,"y":0.37,"e":0.02},
{"r":"N","c":2,"s":"W","t":0,"y":0.09,"e":0.01},{"r":"N","c":2,"s":"W","t":2,"y":0.1,"e":0.01},{"r":"N","c":2,"s":"W","t":4,"y":0.13,"e":0.015},{"r":"N","c":2,"s":"W","t":6,"y":0.18,"e":0.02},{"r":"N","c":2,"s":"W","t":8,"y":0.24,"e":0.03},{"r":"N","c":2,"s":"W","t":10,"y":0.31,"e":0.03},{"r":"N","c":2,"s":"W","t":12,"y":0.36,"e":0.03},{"r":"N","c":2,"s":"W","t":14,"y":0.38,"e":0.03},{"r":"N","c":2,"s":"W","t":16,"y":0.37,"e":0.03},{"r":"N","c":2,"s":"W","t":18,"y":0.35,"e":0.03},{"r":"N","c":2,"s":"W","t":20,"y":0.33,"e":0.03},
{"r":"N","c":4,"s":"R","t":0,"y":0.09,"e":0.01},{"r":"N","c":4,"s":"R","t":2,"y":0.1,"e":0.01},{"r":"N","c":4,"s":"R","t":4,"y":0.12,"e":0.01},{"r":"N","c":4,"s":"R","t":6,"y":0.17,"e":0.015},{"r":"N","c":4,"s":"R","t":8,"y":0.24,"e":0.015},{"r":"N","c":4,"s":"R","t":10,"y":0.32,"e":0.015},{"r":"N","c":4,"s":"R","t":12,"y":0.38,"e":0.015},{"r":"N","c":4,"s":"R","t":14,"y":0.41,"e":0.015},{"r":"N","c":4,"s":"R","t":16,"y":0.41,"e":0.015},{"r":"N","c":4,"s":"R","t":18,"y":0.4,"e":0.015},{"r":"N","c":4,"s":"R","t":20,"y":0.38,"e":0.015},
{"r":"N","c":4,"s":"B","t":0,"y":0.09,"e":0.01},{"r":"N","c":4,"s":"B","t":2,"y":0.1,"e":0.01},{"r":"N","c":4,"s":"B","t":4,"y":0.13,"e":0.01},{"r":"N","c":4,"s":"B","t":6,"y":0.19,"e":0.02},{"r":"N","c":4,"s":"B","t":8,"y":0.27,"e":0.02},{"r":"N","c":4,"s":"B","t":10,"y":0.35,"e":0.02},{"r":"N","c":4,"s":"B","t":12,"y":0.4,"e":0.02},{"r":"N","c":4,"s":"B","t":14,"y":0.42,"e":0.02},{"r":"N","c":4,"s":"B","t":16,"y":0.41,"e":0.02},{"r":"N","c":4,"s":"B","t":18,"y":0.39,"e":0.02},{"r":"N","c":4,"s":"B","t":20,"y":0.37,"e":0.02},
{"r":"N","c":4,"s":"W","t":0,"y":0.09,"e":0.01},{"r":"N","c":4,"s":"W","t":2,"y":0.1,"e":0.01},{"r":"N","c":4,"s":"W","t":4,"y":0.13,"e":0.015},{"r":"N","c":4,"s":"W","t":6,"y":0.19,"e":0.02},{"r":"N","c":4,"s":"W","t":8,"y":0.27,"e":0.025},{"r":"N","c":4,"s":"W","t":10,"y":0.34,"e":0.025},{"r":"N","c":4,"s":"W","t":12,"y":0.38,"e":0.025},{"r":"N","c":4,"s":"W","t":14,"y":0.38,"e":0.025},{"r":"N","c":4,"s":"W","t":16,"y":0.36,"e":0.025},{"r":"N","c":4,"s":"W","t":18,"y":0.34,"e":0.025},{"r":"N","c":4,"s":"W","t":20,"y":0.32,"e":0.025},
{"r":"N","c":8,"s":"R","t":0,"y":0.09,"e":0.01},{"r":"N","c":8,"s":"R","t":2,"y":0.1,"e":0.01},{"r":"N","c":8,"s":"R","t":4,"y":0.11,"e":0.01},{"r":"N","c":8,"s":"R","t":6,"y":0.14,"e":0.01},{"r":"N","c":8,"s":"R","t":8,"y":0.2,"e":0.01},{"r":"N","c":8,"s":"R","t":10,"y":0.28,"e":0.01},{"r":"N","c":8,"s":"R","t":12,"y":0.35,"e":0.01},{"r":"N","c":8,"s":"R","t":14,"y":0.4,"e":0.01},{"r":"N","c":8,"s":"R","t":16,"y":0.41,"e":0.01},{"r":"N","c":8,"s":"R","t":18,"y":0.4,"e":0.01},{"r":"N","c":8,"s":"R","t":20,"y":0.38,"e":0.01},
{"r":"N","c":8,"s":"B","t":0,"y":0.09,"e":0.01},{"r":"N","c":8,"s":"B","t":2,"y":0.1,"e":0.01},{"r":"N","c":8,"s":"B","t":4,"y":0.12,"e":0.01},{"r":"N","c":8,"s":"B","t":6,"y":0.17,"e":0.01},{"r":"N","c":8,"s":"B","t":8,"y":0.25,"e":0.01},{"r":"N","c":8,"s":"B","t":10,"y":0.35,"e":0.01},{"r":"N","c":8,"s":"B","t":12,"y":0.42,"e":0.01},{"r":"N","c":8,"s":"B","t":14,"y":0.44,"e":0.01},{"r":"N","c":8,"s":"B","t":16,"y":0.42,"e":0.01},{"r":"N","c":8,"s":"B","t":18,"y":0.39,"e":0.01},{"r":"N","c":8,"s":"B","t":20,"y":0.37,"e":0.01},
{"r":"N","c":8,"s":"W","t":0,"y":0.09,"e":0.01},{"r":"N","c":8,"s":"W","t":2,"y":0.1,"e":0.01},{"r":"N","c":8,"s":"W","t":4,"y":0.12,"e":0.015},{"r":"N","c":8,"s":"W","t":6,"y":0.17,"e":0.02},{"r":"N","c":8,"s":"W","t":8,"y":0.24,"e":0.025},{"r":"N","c":8,"s":"W","t":10,"y":0.31,"e":0.025},{"r":"N","c":8,"s":"W","t":12,"y":0.36,"e":0.025},{"r":"N","c":8,"s":"W","t":14,"y":0.37,"e":0.025},{"r":"N","c":8,"s":"W","t":16,"y":0.36,"e":0.025},{"r":"N","c":8,"s":"W","t":18,"y":0.33,"e":0.025},{"r":"N","c":8,"s":"W","t":20,"y":0.3,"e":0.025}],
"G":[
{"g":"AG","s":"R","x":0.5,"y":4.3,"e":0.3},{"g":"AG","s":"R","x":1,"y":4.2,"e":0.4},{"g":"AG","s":"R","x":2,"y":4.15,"e":1.0},{"g":"AG","s":"R","x":4,"y":4.45,"e":0.3},{"g":"AG","s":"R","x":8,"y":4.7,"e":0.35},
{"g":"AG","s":"B","x":0.5,"y":4.1,"e":0.2},{"g":"AG","s":"B","x":1,"y":4.4,"e":0.15},{"g":"AG","s":"B","x":2,"y":4.35,"e":0.15},{"g":"AG","s":"B","x":4,"y":4.2,"e":0.2},{"g":"AG","s":"B","x":8,"y":4.4,"e":0.3},
{"g":"AG","s":"W","x":0.5,"y":5.2,"e":0.8},{"g":"AG","s":"W","x":1,"y":3.9,"e":1.3},{"g":"AG","s":"W","x":2,"y":3.5,"e":1.1},{"g":"AG","s":"W","x":4,"y":3.3,"e":0.3},{"g":"AG","s":"W","x":8,"y":3.45,"e":0.3},
{"g":"KG","s":"R","x":0.5,"y":0.34,"e":0.03},{"g":"KG","s":"R","x":1,"y":0.31,"e":0.02},{"g":"KG","s":"R","x":2,"y":0.3,"e":0.03},{"g":"KG","s":"R","x":4,"y":0.335,"e":0.02},{"g":"KG","s":"R","x":8,"y":0.355,"e":0.05},
{"g":"KG","s":"B","x":0.5,"y":0.28,"e":0.02},{"g":"KG","s":"B","x":1,"y":0.285,"e":0.01},{"g":"KG","s":"B","x":2,"y":0.29,"e":0.02},{"g":"KG","s":"B","x":4,"y":0.29,"e":0.02},{"g":"KG","s":"B","x":8,"y":0.305,"e":0.02},
{"g":"KG","s":"W","x":0.5,"y":0.36,"e":0.14},{"g":"KG","s":"W","x":1,"y":0.27,"e":0.09},{"g":"KG","s":"W","x":2,"y":0.235,"e":0.07},{"g":"KG","s":"W","x":4,"y":0.21,"e":0.02},{"g":"KG","s":"W","x":8,"y":0.22,"e":0.02},
{"g":"AN","s":"R","x":0.5,"y":5.1,"e":0.8},{"g":"AN","s":"R","x":1,"y":5.1,"e":1.1},{"g":"AN","s":"R","x":2,"y":4.4,"e":0.8},{"g":"AN","s":"R","x":4,"y":4.0,"e":0.3},{"g":"AN","s":"R","x":8,"y":3.9,"e":0.2},
{"g":"AN","s":"B","x":0.5,"y":4.2,"e":0.2},{"g":"AN","s":"B","x":1,"y":4.4,"e":0.15},{"g":"AN","s":"B","x":2,"y":4.4,"e":0.1},{"g":"AN","s":"B","x":4,"y":4.4,"e":0.1},{"g":"AN","s":"B","x":8,"y":4.5,"e":0.15},
{"g":"AN","s":"W","x":0.5,"y":3.85,"e":0.2},{"g":"AN","s":"W","x":1,"y":3.75,"e":0.2},{"g":"AN","s":"W","x":2,"y":3.65,"e":0.4},{"g":"AN","s":"W","x":4,"y":3.7,"e":0.3},{"g":"AN","s":"W","x":8,"y":3.85,"e":0.3},
{"g":"KN","s":"R","x":0.5,"y":0.405,"e":0.06},{"g":"KN","s":"R","x":1,"y":0.405,"e":0.06},{"g":"KN","s":"R","x":2,"y":0.35,"e":0.05},{"g":"KN","s":"R","x":4,"y":0.32,"e":0.02},{"g":"KN","s":"R","x":8,"y":0.32,"e":0.01},
{"g":"KN","s":"B","x":0.5,"y":0.31,"e":0.02},{"g":"KN","s":"B","x":1,"y":0.33,"e":0.01},{"g":"KN","s":"B","x":2,"y":0.325,"e":0.01},{"g":"KN","s":"B","x":4,"y":0.325,"e":0.01},{"g":"KN","s":"B","x":8,"y":0.33,"e":0.01},
{"g":"KN","s":"W","x":0.5,"y":0.28,"e":0.02},{"g":"KN","s":"W","x":1,"y":0.27,"e":0.01},{"g":"KN","s":"W","x":2,"y":0.265,"e":0.02},{"g":"KN","s":"W","x":4,"y":0.26,"e":0.02},{"g":"KN","s":"W","x":8,"y":0.265,"e":0.02}],
"Gstar":[{"g":"AG","k":"K","x":4,"y":5.1},{"g":"KG","k":"K","x":4,"y":0.375},{"g":"KG","k":"R","x":8,"y":0.42},{"g":"AN","k":"K","x":1,"y":6.5},{"g":"AN","k":"B","x":2,"y":5.5},{"g":"AN","k":"B","x":4,"y":5.1},{"g":"AN","k":"B","x":8,"y":5.0},{"g":"KN","k":"K","x":1,"y":0.48},{"g":"KN","k":"K","x":2,"y":0.42},{"g":"KN","k":"K","x":4,"y":0.36},{"g":"KN","k":"K","x":8,"y":0.36}]
},
"bounds":"flush","spacing":0,
"resolve":{"scale":{"color":"independent","shape":"independent","theta":"independent"}},
"vconcat":[
{"hconcat":[
 {"width":330,"height":250,
  "resolve":{"scale":{"color":"independent","shape":"independent"}},
  "layer":[
   {"data":{"name":"dietA"},"mark":{"type":"arc","radius":114.5,"radius2":109.5},
    "encoding":{"x":{"datum":0,"type":"quantitative","scale":{"domain":[-200,130]},"axis":null},"y":{"datum":0,"type":"quantitative","scale":{"domain":[-139,111],"reverse":true},"axis":null},
     "theta":{"field":"a0","type":"quantitative","scale":{"domain":[0,360],"range":[0,6.283185]},"stack":null},"theta2":{"field":"a1"},
     "color":{"field":"c","type":"nominal","scale":{"domain":["Western","Western+Dextrin","Mouse Chow","Reference"],"range":["#eef3d7","#a8cc2c","#2b7a8e","#e3e3e3"]},"legend":{"title":"DIET","orient":"none","legendX":35,"legendY":77,"symbolStrokeColor":"#999","symbolStrokeWidth":0.4}}}},
   {"data":{"name":"microA"},"mark":{"type":"arc","radius":109,"radius2":104},
    "encoding":{"x":{"datum":0,"type":"quantitative","scale":{"domain":[-200,130]},"axis":null},"y":{"datum":0,"type":"quantitative","scale":{"domain":[-139,111],"reverse":true},"axis":null},
     "theta":{"field":"a0","type":"quantitative","scale":{"domain":[0,360],"range":[0,6.283185]},"stack":null},"theta2":{"field":"a1"},
     "color":{"field":"c","type":"nominal","scale":{"domain":["Germ Free","Defined","Strep Treated","Conventional","Reference"],"range":["#f5d5cf","#f23a24","#a7766f","#ff6914","#e3e3e3"]},"legend":{"title":"MICROBIOME_BACKGROUND","orient":"none","legendX":72,"legendY":18,"symbolStrokeColor":"#999","symbolStrokeWidth":0.4}}}},
   {"data":{"name":"mouseA"},"mark":{"type":"arc","radius":103.5,"radius2":100.5},
    "encoding":{"x":{"datum":0,"type":"quantitative","scale":{"domain":[-200,130]},"axis":null},"y":{"datum":0,"type":"quantitative","scale":{"domain":[-139,111],"reverse":true},"axis":null},
     "theta":{"field":"a0","type":"quantitative","scale":{"domain":[0,360],"range":[0,6.283185]},"stack":null},"theta2":{"field":"a1"},
     "color":{"field":"c","type":"nominal","scale":{"domain":["D128_4","D128_5","D146_4","D146_5","H1_A"],"range":["#f7a80e","#2b0a30","#1a58ff","#22eef5","#5d8d88"]},"legend":{"title":"MOUSE_ID","orient":"none","legendX":35,"legendY":18,"symbolStrokeColor":"#999","symbolStrokeWidth":0.4}}}},
   {"data":{"name":"treeA"},"mark":{"type":"rule","color":"#333","strokeWidth":0.7},
    "encoding":{"x":{"field":"x","type":"quantitative","scale":{"domain":[-200,130]},"axis":null},"y":{"field":"y","type":"quantitative","scale":{"domain":[-139,111],"reverse":true},"axis":null},"x2":{"field":"x2"},"y2":{"field":"y2"}}},
   {"data":{"name":"mutA"},"mark":{"type":"point","filled":true,"size":9,"opacity":1},
    "encoding":{"x":{"field":"dx","type":"quantitative","scale":{"domain":[-200,130]},"axis":null},"y":{"field":"dy","type":"quantitative","scale":{"domain":[-139,111],"reverse":true},"axis":null},
     "color":{"field":"m","type":"nominal","scale":{"domain":["Q15*","Q61*","W85*","Q114*","Q306*","Q381*","590del","750_751insG","766_767del","W1V"],"range":["#0b0b30","#15158f","#1c1ce6","#6c6ce3","#a3a3ee","#c9c9f5","#f7c08f","#c8661c","#6e0404","#111111"]},"legend":{"title":"MUTATION","orient":"none","legendX":35,"legendY":123}},
     "shape":{"field":"m","type":"nominal","scale":{"domain":["Q15*","Q61*","W85*","Q114*","Q306*","Q381*","590del","750_751insG","766_767del","W1V"],"range":["square","square","square","square","square","square","circle","circle","circle","M0,-1L0.235,-0.324L0.951,-0.309L0.38,0.124L0.588,0.809L0,0.4L-0.588,0.809L-0.38,0.124L-0.951,-0.309L-0.235,-0.324Z"]},"legend":{"title":"MUTATION","orient":"none","legendX":35,"legendY":123}}}},
   {"data":{"values":[{"x":-18,"y":21,"l":"1 SNP"}]},"mark":{"type":"text","fontSize":8.5,"color":"#333","align":"center"},
    "encoding":{"x":{"field":"x","type":"quantitative","scale":{"domain":[-200,130]},"axis":null},"y":{"field":"y","type":"quantitative","scale":{"domain":[-139,111],"reverse":true},"axis":null},"text":{"field":"l"}}}
  ]}
],"spacing":0,"bounds":"flush"},
{"vconcat":[
 {"width":1,"height":51,"data":{"values":[{}]},"mark":{"type":"text","text":""},"encoding":{}},
 {"hconcat":[
   {"width":341,"height":1,"data":{"values":[{}]},"mark":{"type":"text","text":""},"encoding":{}},
   {"width":81,"height":156,"data":{"name":"B"},"view":{"stroke":"#1a1a1a","strokeWidth":1.5},"title":{"text":"Glucose"},"transform":[{"filter":"datum.p=='G'"}],
    "encoding":{"x":{"field":"t","type":"quantitative","scale":{"domain":[-0.8,21]},"axis":{"values":[0,5,10,15,20],"title":null}},
     "y":{"field":"y","type":"quantitative","scale":{"domain":[-0.05,1.05]},"axis":{"values":[0,0.25,0.5,0.75,1],"format":".2f","title":"Absorbance (OD600)"}},
     "color":{"field":"s","type":"nominal","scale":{"domain":["I1","I93","I96","WT"],"range":["#F8766D","#7CAE00","#00BFC4","#C77CFF"]},"legend":{"orient":"none","legendX":5,"legendY":6,"title":null,"symbolType":"stroke","symbolStrokeWidth":2.2,"symbolSize":36,"rowPadding":0,"labelFontSize":4.5,"labelOffset":2,"labelColor":"#333","labelExpr":"{'I1':'Isolate 1   (nagC Q15*)','I93':'Isolate 93 (nagC Q61*)','I96':'Isolate 96 (nagC Q381*)','WT':'WT'}[datum.label]"}}},
    "layer":[{"mark":{"type":"errorband","interpolate":"monotone","opacity":0.5},"encoding":{"yError":{"field":"e"}}},{"mark":{"type":"line","interpolate":"monotone","strokeWidth":1.1}}]},
   {"width":81,"height":156,"data":{"name":"B"},"view":{"stroke":"#1a1a1a","strokeWidth":1.5},"title":{"text":"N-acetylglucosamine"},"transform":[{"filter":"datum.p=='N'"}],
    "encoding":{"x":{"field":"t","type":"quantitative","scale":{"domain":[-0.8,21]},"axis":{"values":[0,5,10,15,20],"title":"Time (Hours)","titleFontSize":8.5,"titlePadding":4}},
     "y":{"field":"y","type":"quantitative","scale":{"domain":[-0.05,1.05]},"axis":{"values":[0,0.25,0.5,0.75,1],"format":".2f","title":null}},
     "color":{"field":"s","type":"nominal","scale":{"domain":["I1","I93","I96","WT"],"range":["#F8766D","#7CAE00","#00BFC4","#C77CFF"]},"legend":null}},
    "layer":[{"mark":{"type":"errorband","interpolate":"monotone","opacity":0.5},"encoding":{"yError":{"field":"e"}}},{"mark":{"type":"line","interpolate":"monotone","strokeWidth":1.1}}]},
   {"width":81,"height":156,"data":{"name":"B"},"view":{"stroke":"#1a1a1a","strokeWidth":1.5},"title":{"text":["Glucose +","N-acetylglucosamine"]},"transform":[{"filter":"datum.p=='GN'"}],
    "encoding":{"x":{"field":"t","type":"quantitative","scale":{"domain":[-0.8,21]},"axis":{"values":[0,5,10,15,20],"title":null}},
     "y":{"field":"y","type":"quantitative","scale":{"domain":[-0.05,1.05]},"axis":{"values":[0,0.25,0.5,0.75,1],"format":".2f","title":null}},
     "color":{"field":"s","type":"nominal","scale":{"domain":["I1","I93","I96","WT"],"range":["#F8766D","#7CAE00","#00BFC4","#C77CFF"]},"legend":null}},
    "layer":[{"mark":{"type":"errorband","interpolate":"monotone","opacity":0.5},"encoding":{"yError":{"field":"e"}}},{"mark":{"type":"line","interpolate":"monotone","strokeWidth":1.1}}]}
 ],"spacing":16,"bounds":"flush","resolve":{"scale":{"color":"independent"}}}
],"spacing":0,"bounds":"flush","resolve":{"scale":{"color":"independent"}}},
{"vconcat":[
 {"width":1,"height":250,"data":{"values":[{}]},"mark":{"type":"text","text":""},"encoding":{}},
 {"hconcat":[
 {"width":330,"height":250,
  "resolve":{"scale":{"color":"independent","shape":"independent"}},
  "layer":[
   {"data":{"name":"dietC"},"mark":{"type":"arc","radius":113.5,"radius2":108.5},
    "encoding":{"x":{"datum":0,"type":"quantitative","scale":{"domain":[-202,128]},"axis":null},"y":{"datum":0,"type":"quantitative","scale":{"domain":[-137,113],"reverse":true},"axis":null},
     "theta":{"field":"a0","type":"quantitative","scale":{"domain":[0,360],"range":[0,6.283185]},"stack":null},"theta2":{"field":"a1"},
     "color":{"field":"c","type":"nominal","scale":{"domain":["Western","Western+Dextrin","Mouse Chow","Reference"],"range":["#eef3d7","#a8cc2c","#2b7a8e","#e3e3e3"]},"legend":{"title":"DIET","orient":"none","legendX":35,"legendY":124,"symbolStrokeColor":"#999","symbolStrokeWidth":0.4}}}},
   {"data":{"name":"microC"},"mark":{"type":"arc","radius":108,"radius2":103},
    "encoding":{"x":{"datum":0,"type":"quantitative","scale":{"domain":[-202,128]},"axis":null},"y":{"datum":0,"type":"quantitative","scale":{"domain":[-137,113],"reverse":true},"axis":null},
     "theta":{"field":"a0","type":"quantitative","scale":{"domain":[0,360],"range":[0,6.283185]},"stack":null},"theta2":{"field":"a1"},
     "color":{"field":"c","type":"nominal","scale":{"domain":["Germ Free","Defined","Strep Treated","Conventional","Reference"],"range":["#f5d5cf","#f23a24","#a7766f","#ff6914","#e3e3e3"]},"legend":{"title":"MICROBIOME_BACKGROUND","orient":"none","legendX":35,"legendY":66,"symbolStrokeColor":"#999","symbolStrokeWidth":0.4}}}},
   {"data":{"name":"mouseC"},"mark":{"type":"arc","radius":102.5,"radius2":99.5},
    "encoding":{"x":{"datum":0,"type":"quantitative","scale":{"domain":[-202,128]},"axis":null},"y":{"datum":0,"type":"quantitative","scale":{"domain":[-137,113],"reverse":true},"axis":null},
     "theta":{"field":"a0","type":"quantitative","scale":{"domain":[0,360],"range":[0,6.283185]},"stack":null},"theta2":{"field":"a1"},
     "color":{"field":"c","type":"nominal","scale":{"domain":["D128_4","D128_5","H2_D","H2_E","H1_A"],"range":["#f7a80e","#2b0a30","#8a1a96","#7fd8e6","#5d8d88"]},"legend":{"title":"MOUSE_ID","orient":"none","legendX":35,"legendY":8,"symbolStrokeColor":"#999","symbolStrokeWidth":0.4}}}},
   {"data":{"name":"treeC"},"mark":{"type":"rule","color":"#333","strokeWidth":0.7},
    "encoding":{"x":{"field":"x","type":"quantitative","scale":{"domain":[-202,128]},"axis":null},"y":{"field":"y","type":"quantitative","scale":{"domain":[-137,113],"reverse":true},"axis":null},"x2":{"field":"x2"},"y2":{"field":"y2"}}},
   {"data":{"name":"mutC"},"mark":{"type":"point","filled":true,"size":9,"opacity":1},
    "encoding":{"x":{"field":"dx","type":"quantitative","scale":{"domain":[-202,128]},"axis":null},"y":{"field":"dy","type":"quantitative","scale":{"domain":[-137,113],"reverse":true},"axis":null},
     "color":{"field":"m","type":"nominal","scale":{"domain":["D395N","W399*","W416*","E330*"],"range":["#0b0b35","#0b0b35","#0b0b35","#0b0b35"]},"legend":{"title":"MUTATION","orient":"none","legendX":35,"legendY":173}},
     "shape":{"field":"m","type":"nominal","scale":{"domain":["D395N","W399*","W416*","E330*"],"range":["square","circle","M0,-1L0.235,-0.324L0.951,-0.309L0.38,0.124L0.588,0.809L0,0.4L-0.588,0.809L-0.38,0.124L-0.951,-0.309L-0.235,-0.324Z","triangle-right"]},"legend":{"title":"MUTATION","orient":"none","legendX":35,"legendY":173}}}},
   {"data":{"values":[{"x":-45,"y":-7,"l":"1 SNP"}]},"mark":{"type":"text","fontSize":8.5,"color":"#333","align":"center"},
    "encoding":{"x":{"field":"x","type":"quantitative","scale":{"domain":[-202,128]},"axis":null},"y":{"field":"y","type":"quantitative","scale":{"domain":[-137,113],"reverse":true},"axis":null},"text":{"field":"l"}}}
  ]}
 ],"spacing":0,"bounds":"flush"}
],"spacing":0,"bounds":"flush","resolve":{"scale":{"color":"independent","shape":"independent"}}},
{"vconcat":[
 {"width":1,"height":303,"data":{"values":[{}]},"mark":{"type":"text","text":""},"encoding":{}},
 {"hconcat":[
   {"width":345,"height":1,"data":{"values":[{}]},"mark":{"type":"text","text":""},"encoding":{}},
   {"width":80,"height":157,"data":{"name":"D"},"view":{"stroke":"#1a1a1a","strokeWidth":1.5},"title":{"text":"Gluconate"},"transform":[{"filter":"datum.p=='Gc'"}],
    "encoding":{"x":{"field":"t","type":"quantitative","scale":{"domain":[-0.7,25.7]},"axis":{"values":[0,5,10,15,20,25],"title":null}},
     "y":{"field":"y","type":"quantitative","scale":{"domain":[-0.045,1.05]},"axis":{"values":[0,0.25,0.5,0.75,1],"format":".2f","title":"Absorbance (OD600)"}},
     "color":{"field":"s","type":"nominal","scale":{"domain":["R","B","W"],"range":["#8b1538","#3d85f0","#cc77ff"]},"legend":{"orient":"none","legendX":3,"legendY":6,"title":null,"symbolType":"stroke","symbolStrokeWidth":2,"symbolSize":36,"rowPadding":0,"labelFontSize":4.5,"labelOffset":2,"labelColor":"#333","labelExpr":"{'R':'Isolate 21 (gntT D395N)','B':'Isolate 3   (gntT W399*/nagC fs)','W':'WT'}[datum.label]"}}},
    "layer":[{"mark":{"type":"errorband","interpolate":"monotone","opacity":0.5},"encoding":{"yError":{"field":"e"}}},{"mark":{"type":"line","interpolate":"monotone","strokeWidth":1.1}}]},
   {"width":80,"height":157,"data":{"name":"D"},"view":{"stroke":"#1a1a1a","strokeWidth":1.5},"title":{"text":"N-acetylglucosamine"},"transform":[{"filter":"datum.p=='N'"}],
    "encoding":{"x":{"field":"t","type":"quantitative","scale":{"domain":[-0.7,25.7]},"axis":{"values":[0,5,10,15,20,25],"title":"Time (Hours)","titleFontSize":8.5,"titlePadding":4}},
     "y":{"field":"y","type":"quantitative","scale":{"domain":[-0.045,1.05]},"axis":{"values":[0,0.25,0.5,0.75,1],"format":".2f","title":null}},
     "color":{"field":"s","type":"nominal","scale":{"domain":["R","B","W"],"range":["#8b1538","#3d85f0","#cc77ff"]},"legend":null}},
    "layer":[{"mark":{"type":"errorband","interpolate":"monotone","opacity":0.5},"encoding":{"yError":{"field":"e"}}},{"mark":{"type":"line","interpolate":"monotone","strokeWidth":1.1}}]},
   {"width":80,"height":157,"data":{"name":"D"},"view":{"stroke":"#1a1a1a","strokeWidth":1.5},"title":{"text":"Mucin"},"transform":[{"filter":"datum.p=='M'"}],
    "encoding":{"x":{"field":"t","type":"quantitative","scale":{"domain":[-0.7,25.7]},"axis":{"values":[0,5,10,15,20,25],"title":null}},
     "y":{"field":"y","type":"quantitative","scale":{"domain":[-0.045,1.05]},"axis":{"values":[0,0.25,0.5,0.75,1],"format":".2f","title":null}},
     "color":{"field":"s","type":"nominal","scale":{"domain":["R","B","W"],"range":["#8b1538","#3d85f0","#cc77ff"]},"legend":null}},
    "layer":[{"mark":{"type":"errorband","interpolate":"monotone","opacity":0.5},"encoding":{"yError":{"field":"e"}}},{"mark":{"type":"line","interpolate":"monotone","strokeWidth":1.1}}]}
 ],"spacing":15,"bounds":"flush","resolve":{"scale":{"color":"independent"}}}
],"spacing":0,"bounds":"flush","resolve":{"scale":{"color":"independent"}}},
{"vconcat":[
 {"width":1,"height":525,"data":{"values":[{}]},"mark":{"type":"text","text":""},"encoding":{}},
 {"hconcat":[
   {"width":11,"height":1,"data":{"values":[{}]},"mark":{"type":"text","text":""},"encoding":{}},
   {"width":83,"height":157,"data":{"name":"E"},"view":{"stroke":"#1a1a1a","strokeWidth":1.5},"title":{"text":"Mucin"},"transform":[{"filter":"datum.p=='M1'"}],
    "encoding":{"x":{"field":"t","type":"quantitative","scale":{"domain":[-1.1,20.8]},"axis":{"values":[0,5,10,15,20],"title":null}},
     "y":{"field":"y","type":"quantitative","scale":{"domain":[-0.055,1.05]},"axis":{"values":[0,0.25,0.5,0.75,1],"format":".2f","title":"Absorbance (OD600)","titlePadding":2}},
     "color":{"field":"s","type":"nominal","scale":{"domain":["HD15_01","HD15_02","HD15_03","HD15_04","WT"],"range":["#6f8dff","#3d5cf5","#1a22c0","#0b0b3e","#cc77ff"]},"legend":{"orient":"none","legendX":4,"legendY":5,"title":null,"symbolType":"stroke","symbolStrokeWidth":1.3,"symbolSize":30,"rowPadding":0,"labelFontSize":5,"labelOffset":2,"labelColor":"#333"}}},
    "layer":[{"mark":{"type":"errorband","interpolate":"monotone","opacity":0.18},"encoding":{"yError":{"field":"e"}}},{"mark":{"type":"line","interpolate":"monotone","strokeWidth":1}}]},
   {"width":83,"height":157,"data":{"name":"E"},"view":{"stroke":"#1a1a1a","strokeWidth":1.5},"title":{"text":"Mucin"},"transform":[{"filter":"datum.p=='M2'"}],
    "encoding":{"x":{"field":"t","type":"quantitative","scale":{"domain":[-1.1,20.8]},"axis":{"values":[0,5,10,15,20],"title":"Time (Hours)","titleFontSize":8,"titlePadding":4}},
     "y":{"field":"y","type":"quantitative","scale":{"domain":[-0.055,1.05]},"axis":{"values":[0,0.25,0.5,0.75,1],"format":".2f","title":null}},
     "color":{"field":"s","type":"nominal","scale":{"domain":["HD15_01","HD15_02","HD15_03","HD15_04","WT"],"range":["#6f8dff","#3d5cf5","#1a22c0","#0b0b3e","#cc77ff"]},"legend":null}},
    "layer":[{"mark":{"type":"errorband","interpolate":"monotone","opacity":0.18},"encoding":{"yError":{"field":"e"}}},{"mark":{"type":"line","interpolate":"monotone","strokeWidth":1}}]},
   {"width":83,"height":157,"data":{"name":"E"},"view":{"stroke":"#1a1a1a","strokeWidth":1.5},"title":{"text":"N-acetylglucosamine"},"transform":[{"filter":"datum.p=='N'"}],
    "encoding":{"x":{"field":"t","type":"quantitative","scale":{"domain":[-1.1,20.8]},"axis":{"values":[0,5,10,15,20],"title":null}},
     "y":{"field":"y","type":"quantitative","scale":{"domain":[-0.055,1.05]},"axis":{"values":[0,0.25,0.5,0.75,1],"format":".2f","title":null}},
     "color":{"field":"s","type":"nominal","scale":{"domain":["HD15_01","HD15_02","HD15_03","HD15_04","WT"],"range":["#6f8dff","#3d5cf5","#1a22c0","#0b0b3e","#cc77ff"]},"legend":null}},
    "layer":[{"mark":{"type":"errorband","interpolate":"monotone","opacity":0.18},"encoding":{"yError":{"field":"e"}}},{"mark":{"type":"line","interpolate":"monotone","strokeWidth":1}}]},
   {"width":23,"height":1,"data":{"values":[{}]},"mark":{"type":"text","text":""},"encoding":{}},
   {"data":{"name":"F"},
    "facet":{"row":{"field":"r","type":"nominal","sort":["G","N"],"header":{"title":null,"labelExpr":"datum.value == 'G' ? 'Glucose' : 'N-acetylglucosamine'","labelAngle":-90,"labelFontWeight":"bold","labelFontSize":7,"labelPadding":1,"labelColor":"#111"}},
     "column":{"field":"c","type":"ordinal","header":{"title":null,"labelExpr":"datum.value + ' mM gluconate'","labelAnchor":"start","labelAlign":"left","labelFontSize":7,"labelPadding":2,"labelColor":"#222"}}},
    "spacing":{"row":2,"column":2.5},
    "bounds":"flush",
    "title":{"text":"Time (Hours)","orient":"bottom","anchor":"middle","frame":"bounds","fontSize":8,"offset":3},
    "spec":{"width":58,"height":77,"view":{"stroke":"#1a1a1a","strokeWidth":1.5},
     "encoding":{"x":{"field":"t","type":"quantitative","scale":{"domain":[-1.2,21.2]},"axis":{"values":[0,5,10,15,20],"title":null}},
      "y":{"field":"y","type":"quantitative","scale":{"domain":[-0.04,0.8]},"axis":{"values":[0,0.2,0.4,0.6],"format":".1f","title":"Absorbance (OD600)","titleFontSize":6.5}},
      "color":{"field":"s","type":"nominal","scale":{"domain":["R","B","W"],"range":["#8b1538","#3d85f0","#cc77ff"]},"legend":{"orient":"none","legendX":17,"legendY":-19,"direction":"horizontal","title":null,"symbolType":"stroke","symbolStrokeWidth":1.5,"symbolSize":80,"labelFontSize":4.5,"labelOffset":2,"columnPadding":10,"labelColor":"#333","labelExpr":"{'R':'Isolate 21 (gntT D395N)','B':'Isolate 3 (gntT W399*/nagC fs)','W':'WT'}[datum.label]"}}},
     "layer":[{"mark":{"type":"errorband","interpolate":"monotone","opacity":0.5},"encoding":{"yError":{"field":"e"}}},{"mark":{"type":"line","interpolate":"monotone","strokeWidth":1.1}}]}}
 ],"spacing":11,"bounds":"flush","resolve":{"scale":{"color":"independent"}}}
],"spacing":0,"bounds":"flush","resolve":{"scale":{"color":"independent"}}},
{"vconcat":[
 {"width":1,"height":723,"data":{"values":[{}]},"mark":{"type":"text","text":""},"encoding":{}},
 {"hconcat":[
    {"width":72,"height":1,"data":{"values":[{}]},"mark":{"type":"text","text":""},"encoding":{}},
    {"width":91,"height":95,"title":{"text":"AUC","anchor":"middle","fontSize":10,"fontWeight":"bold","offset":2,"color":"#000"},
     "encoding":{"x":{"field":"x","type":"quantitative","scale":{"domain":[0,8.6]},"axis":{"values":[0,2,4,6,8],"labels":false,"title":null,"domain":true,"domainColor":"#000","domainWidth":1.5,"tickColor":"#000","tickSize":3,"tickWidth":1}},
      "y":{"field":"y","type":"quantitative","scale":{"domain":[0,7.9]},"axis":{"values":[0,2,4,6],"title":"Glucose","domain":true,"domainColor":"#000","domainWidth":1.5,"tickColor":"#000","tickSize":3,"tickWidth":1,"labelFontWeight":"bold","labelColor":"#000","labelFontSize":6.5,"titleFontWeight":"bold","titleFontSize":7.5,"titleColor":"#000","titlePadding":6}},
      "color":{"field":"s","type":"nominal","scale":{"domain":["R","B","W","K"],"range":["#8b1538","#3d85f0","#cc77ff","#111111"]},"legend":null}},
     "layer":[
      {"data":{"name":"G"},"transform":[{"filter":"datum.g=='AG'"}],"mark":{"type":"errorbar","ticks":true,"thickness":1.2},"encoding":{"yError":{"field":"e"}}},
      {"data":{"name":"G"},"transform":[{"filter":"datum.g=='AG'"}],"mark":{"type":"line","interpolate":"monotone","strokeWidth":2}},
      {"data":{"name":"Gstar"},"transform":[{"filter":"datum.g=='AG'"}],"mark":{"type":"text","text":"*","fontSize":9,"fontWeight":"bold","baseline":"middle"},"encoding":{"color":{"field":"k","type":"nominal"}}}]},
    {"width":21,"height":1,"data":{"values":[{}]},"mark":{"type":"text","text":""},"encoding":{}},
    {"width":91,"height":95,"title":{"text":"K","anchor":"middle","fontSize":10,"fontWeight":"bold","fontStyle":"italic","offset":2,"color":"#000"},
     "encoding":{"x":{"field":"x","type":"quantitative","scale":{"domain":[0,8.6]},"axis":{"values":[0,2,4,6,8],"labels":false,"title":null,"domain":true,"domainColor":"#000","domainWidth":1.5,"tickColor":"#000","tickSize":3,"tickWidth":1}},
      "y":{"field":"y","type":"quantitative","scale":{"domain":[0,0.5]},"axis":{"values":[0,0.2,0.4],"format":"~g","title":null,"domain":true,"domainColor":"#000","domainWidth":1.5,"tickColor":"#000","tickSize":3,"tickWidth":1,"labelFontWeight":"bold","labelColor":"#000","labelFontSize":6.5}},
      "color":{"field":"s","type":"nominal","scale":{"domain":["R","B","W","K"],"range":["#8b1538","#3d85f0","#cc77ff","#111111"]},"legend":null}},
     "layer":[
      {"data":{"name":"G"},"transform":[{"filter":"datum.g=='KG'"}],"mark":{"type":"errorbar","ticks":true,"thickness":1.2},"encoding":{"yError":{"field":"e"}}},
      {"data":{"name":"G"},"transform":[{"filter":"datum.g=='KG'"}],"mark":{"type":"line","interpolate":"monotone","strokeWidth":2}},
      {"data":{"name":"Gstar"},"transform":[{"filter":"datum.g=='KG'"}],"mark":{"type":"text","text":"*","fontSize":9,"fontWeight":"bold","baseline":"middle"},"encoding":{"color":{"field":"k","type":"nominal"}}}]}
 ],"spacing":0,"bounds":"flush","resolve":{"scale":{"color":"independent"}}}
],"spacing":0,"bounds":"flush","resolve":{"scale":{"color":"independent"}}},
{"vconcat":[
 {"width":1,"height":823,"data":{"values":[{}]},"mark":{"type":"text","text":""},"encoding":{}},
 {"hconcat":[
    {"width":72,"height":1,"data":{"values":[{}]},"mark":{"type":"text","text":""},"encoding":{}},
    {"width":91,"height":97,
     "encoding":{"x":{"field":"x","type":"quantitative","scale":{"domain":[0,8.6]},"axis":{"values":[0,2,4,6,8],"title":"Gluconate (mM)","titleFontWeight":"bold","titleFontSize":6.5,"titleColor":"#000","titlePadding":2,"labelFontWeight":"bold","labelColor":"#000","labelFontSize":6.5,"domain":true,"domainColor":"#000","domainWidth":1.5,"tickColor":"#000","tickSize":3,"tickWidth":1}},
      "y":{"field":"y","type":"quantitative","scale":{"domain":[0,7.5]},"axis":{"values":[0,2,4,6],"title":"N-acetylglucosamine","domain":true,"domainColor":"#000","domainWidth":1.5,"tickColor":"#000","tickSize":3,"tickWidth":1,"labelFontWeight":"bold","labelColor":"#000","labelFontSize":6.5,"titleFontWeight":"bold","titleFontSize":7.5,"titleColor":"#000","titlePadding":6}},
      "color":{"field":"s","type":"nominal","scale":{"domain":["R","B","W","K"],"range":["#8b1538","#3d85f0","#cc77ff","#111111"]},"legend":null}},
     "layer":[
      {"data":{"name":"G"},"transform":[{"filter":"datum.g=='AN'"}],"mark":{"type":"errorbar","ticks":true,"thickness":1.2},"encoding":{"yError":{"field":"e"}}},
      {"data":{"name":"G"},"transform":[{"filter":"datum.g=='AN'"}],"mark":{"type":"line","interpolate":"monotone","strokeWidth":2}},
      {"data":{"name":"Gstar"},"transform":[{"filter":"datum.g=='AN'"}],"mark":{"type":"text","text":"*","fontSize":9,"fontWeight":"bold","baseline":"middle"},"encoding":{"color":{"field":"k","type":"nominal"}}}]},
    {"width":21,"height":1,"data":{"values":[{}]},"mark":{"type":"text","text":""},"encoding":{}},
    {"width":91,"height":97,
     "encoding":{"x":{"field":"x","type":"quantitative","scale":{"domain":[0,8.6]},"axis":{"values":[0,2,4,6,8],"title":"Gluconate (mM)","titleFontWeight":"bold","titleFontSize":6.5,"titleColor":"#000","titlePadding":2,"labelFontWeight":"bold","labelColor":"#000","labelFontSize":6.5,"domain":true,"domainColor":"#000","domainWidth":1.5,"tickColor":"#000","tickSize":3,"tickWidth":1}},
      "y":{"field":"y","type":"quantitative","scale":{"domain":[0,0.5]},"axis":{"values":[0,0.2,0.4],"format":"~g","title":null,"domain":true,"domainColor":"#000","domainWidth":1.5,"tickColor":"#000","tickSize":3,"tickWidth":1,"labelFontWeight":"bold","labelColor":"#000","labelFontSize":6.5}},
      "color":{"field":"s","type":"nominal","scale":{"domain":["R","B","W","K"],"range":["#8b1538","#3d85f0","#cc77ff","#111111"]},"legend":null}},
     "layer":[
      {"data":{"name":"G"},"transform":[{"filter":"datum.g=='KN'"}],"mark":{"type":"errorbar","ticks":true,"thickness":1.2},"encoding":{"yError":{"field":"e"}}},
      {"data":{"name":"G"},"transform":[{"filter":"datum.g=='KN'"}],"mark":{"type":"line","interpolate":"monotone","strokeWidth":2}},
      {"data":{"name":"Gstar"},"transform":[{"filter":"datum.g=='KN'"}],"mark":{"type":"text","text":"*","fontSize":9,"fontWeight":"bold","baseline":"middle"},"encoding":{"color":{"field":"k","type":"nominal"}}}]}
 ],"spacing":0,"bounds":"flush","resolve":{"scale":{"color":"independent"}}}
],"spacing":0,"bounds":"flush","resolve":{"scale":{"color":"independent"}}},
{"width":642,"height":941,"data":{"values":[{"l":"A","x":7,"y":13.5},{"l":"B","x":333,"y":13.5},{"l":"C","x":7,"y":261},{"l":"D","x":333,"y":261},{"l":"E","x":8,"y":515},{"l":"F","x":332,"y":508},{"l":"G","x":12,"y":725}]},
 "mark":{"type":"text","fontSize":13,"fontWeight":"bold","align":"left","baseline":"alphabetic","color":"#000"},
 "encoding":{"x":{"field":"x","type":"quantitative","scale":{"domain":[0,642]},"axis":null},"y":{"field":"y","type":"quantitative","scale":{"domain":[0,941],"reverse":true},"axis":null},"text":{"field":"l"}}}
]
}
